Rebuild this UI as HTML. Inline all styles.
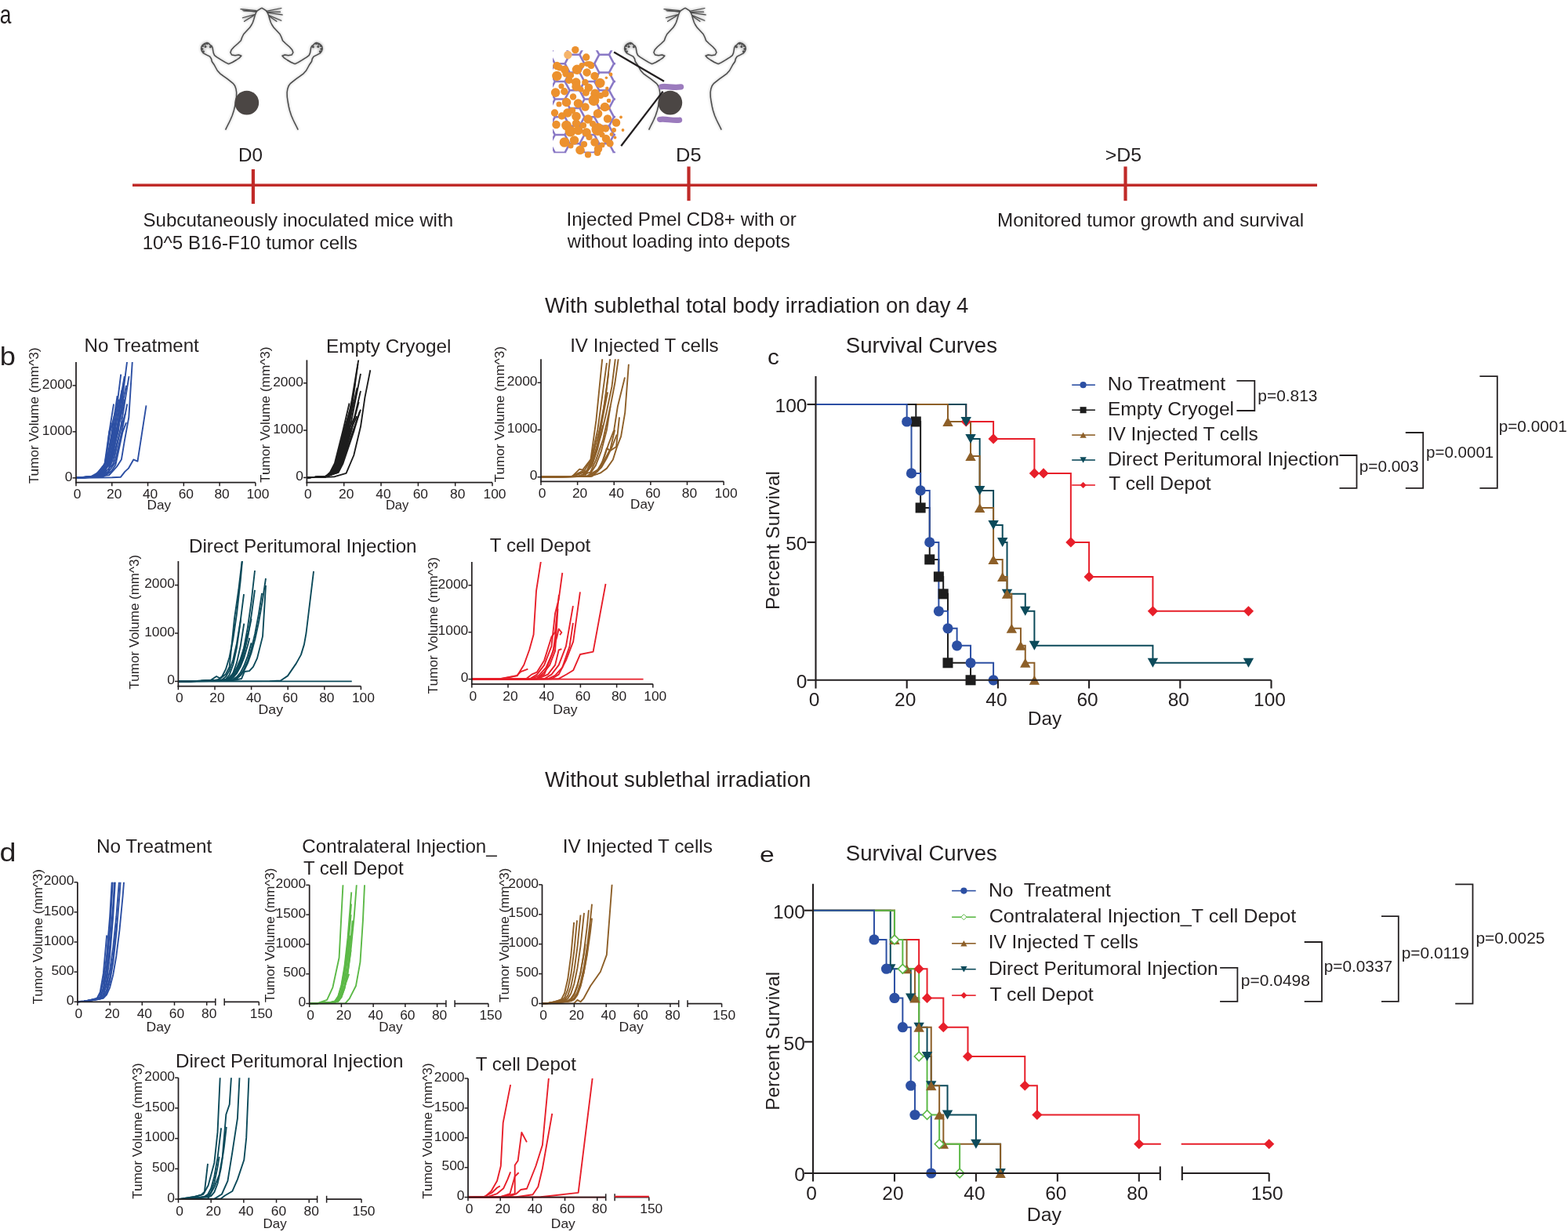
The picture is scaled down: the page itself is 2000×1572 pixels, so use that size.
<!DOCTYPE html>
<html><head><meta charset="utf-8"><title>Figure</title>
<style>
html,body{margin:0;padding:0;background:#fff;}
body{width:2000px;height:1572px;overflow:hidden;}
svg{display:block;}
svg text{font-family:'Liberation Sans', Arial, sans-serif;fill:#231f20;}
</style></head><body>
<svg width="2000" height="1572" viewBox="0 0 2000 1572">
<rect width="2000" height="1572" fill="#fff"/>
<text x="-0.17" y="30.2" font-size="32.3" textLength="14.67" lengthAdjust="spacingAndGlyphs">a</text>
<line x1="169" y1="236.3" x2="1680" y2="236.3" stroke="#c02a28" stroke-width="3.6"/>
<line x1="322.9" y1="216" x2="322.9" y2="260.1" stroke="#c02a28" stroke-width="4.2"/>
<line x1="878.5" y1="212.5" x2="878.5" y2="256.2" stroke="#c02a28" stroke-width="4.2"/>
<line x1="1435.5" y1="212.5" x2="1435.5" y2="256.2" stroke="#c02a28" stroke-width="4.2"/>
<text x="304.02" y="206" font-size="24.4" textLength="30.93" lengthAdjust="spacingAndGlyphs">D0</text>
<text x="862.12" y="206" font-size="24.4" textLength="32.45" lengthAdjust="spacingAndGlyphs">D5</text>
<text x="1409.77" y="206" font-size="24.4" textLength="46.27" lengthAdjust="spacingAndGlyphs">&gt;D5</text>
<text x="182.4" y="289" font-size="24" textLength="395.66" lengthAdjust="spacingAndGlyphs">Subcutaneously inoculated mice with</text>
<text x="181.66" y="317.5" font-size="24" textLength="274.21" lengthAdjust="spacingAndGlyphs">10^5 B16-F10 tumor cells</text>
<text x="722.47" y="288" font-size="24" textLength="293.33" lengthAdjust="spacingAndGlyphs">Injected Pmel CD8+ with or</text>
<text x="723.84" y="316.4" font-size="24" textLength="283.93" lengthAdjust="spacingAndGlyphs">without loading into depots</text>
<text x="1272.02" y="289" font-size="24" textLength="391.1" lengthAdjust="spacingAndGlyphs">Monitored tumor growth and survival</text>
<defs><filter id="soft" x="-20%" y="-20%" width="140%" height="140%"><feGaussianBlur stdDeviation="1.8"/></filter><filter id="soft2" x="-20%" y="-20%" width="140%" height="140%"><feGaussianBlur stdDeviation="0.4"/></filter><clipPath id="depclip"><rect x="705" y="64.2" width="80" height="131"/></clipPath></defs>
<g filter="url(#soft)" opacity="0.4" stroke="#777" fill="none">
<polyline points="333.9,10.1 331,11.8 328.3,13.6 326.8,15.5 325.2,19.6 323.8,24.5 322.5,28.5 321,31.5 318.5,35.3 314.5,39.5 310.8,43.5 308.8,47.5 307.3,51.8 303.5,55.5 298.6,59.8 295.2,63.5 293.9,67 295.6,70 300,70.8 304.5,70 307.8,71.2 305.5,73.8 301.5,76.5 296.5,79.5 291.6,81.6 287.5,79.6 282.5,76.6 276.5,72.8 273.6,70.6 272.3,67.6 271.6,63.8 271.2,61 270,58.6 268,57.3 266.4,55.4 264,54.5 261.5,55.4 259,57 257,59.5 256.6,62.2 257.5,65.2 259.4,67.9 263.7,70.2 267.7,72.2 269.5,75 270.3,78.5 272.9,82.2 275,86 277.2,90 280.6,93.8 285.4,97.4 290,100.6 294.1,103.9 297.5,106.6 299.6,109.5 301,113.5 301.7,118 301.5,124 300.6,130 299.5,136 298.3,141 296.2,147.5 293.8,153 291.8,157.2 289.6,161.5 287.6,165.6" stroke-width="2.4" stroke-linejoin="round"/>
<polyline points="333.9,10.1 336.8,11.8 339.5,13.6 341,15.5 342.6,19.6 344,24.5 345.3,28.5 346.8,31.5 349.3,35.3 353.3,39.5 357,43.5 359,47.5 360.5,51.8 364.3,55.5 369.2,59.8 372.6,63.5 373.9,67 372.2,70 367.8,70.8 363.3,70 360,71.2 362.3,73.8 366.3,76.5 371.3,79.5 376.2,81.6 380.3,79.6 385.3,76.6 391.3,72.8 394.2,70.6 395.5,67.6 396.2,63.8 396.6,61 397.8,58.6 399.8,57.3 401.4,55.4 403.8,54.5 406.3,55.4 408.8,57 410.8,59.5 411.2,62.2 410.3,65.2 408.4,67.9 404.1,70.2 400.1,72.2 398.3,75 397.5,78.5 394.9,82.2 392.8,86 390.6,90 387.2,93.8 382.4,97.4 377.8,100.6 373.7,103.9 370.3,106.6 368.2,109.5 366.8,113.5 366.1,118 366.3,124 367.2,130 368.3,136 369.5,141 371.6,147.5 374,153 376,157.2 378.2,161.5 380.2,165.6" stroke-width="2.4" stroke-linejoin="round"/>
<line x1="327.3" y1="13.65" x2="307" y2="11.55" stroke-width="3"/>
<line x1="326.6" y1="14.4" x2="310.9" y2="14" stroke-width="3"/>
<line x1="326.2" y1="15.2" x2="309.5" y2="13" stroke-width="3"/>
<line x1="324.5" y1="18.55" x2="309.45" y2="22.75" stroke-width="3"/>
<line x1="323.8" y1="19.6" x2="311.55" y2="27.3" stroke-width="3"/>
<line x1="339.55" y1="14.35" x2="358.8" y2="10.5" stroke-width="3"/>
<line x1="340.95" y1="16.1" x2="360.2" y2="18.9" stroke-width="3"/>
<line x1="340.5" y1="15.4" x2="357.5" y2="15.2" stroke-width="3"/>
<line x1="343" y1="19.6" x2="358.8" y2="26.25" stroke-width="3"/>
<line x1="343.75" y1="21" x2="352.85" y2="27.3" stroke-width="3"/>
<circle cx="258.6" cy="58.6" r="2.5" fill="#777"/>
<circle cx="261.2" cy="56.2" r="2.5" fill="#777"/>
<circle cx="264.4" cy="55.6" r="2.5" fill="#777"/>
<circle cx="257.9" cy="62.4" r="2.5" fill="#777"/>
<circle cx="259.4" cy="65.8" r="2.5" fill="#777"/>
<circle cx="268.4" cy="59.8" r="2.5" fill="#777"/>
<circle cx="262" cy="59.4" r="2.5" fill="#777"/>
<circle cx="409.2" cy="58.6" r="2.5" fill="#777"/>
<circle cx="406.6" cy="56.2" r="2.5" fill="#777"/>
<circle cx="403.4" cy="55.6" r="2.5" fill="#777"/>
<circle cx="409.9" cy="62.4" r="2.5" fill="#777"/>
<circle cx="408.4" cy="65.8" r="2.5" fill="#777"/>
<circle cx="399.4" cy="59.8" r="2.5" fill="#777"/>
<circle cx="405.8" cy="59.4" r="2.5" fill="#777"/>
</g>
<g filter="url(#soft2)" stroke="#4a4a4a" fill="none">
<polyline points="333.9,10.1 331,11.8 328.3,13.6 326.8,15.5 325.2,19.6 323.8,24.5 322.5,28.5 321,31.5 318.5,35.3 314.5,39.5 310.8,43.5 308.8,47.5 307.3,51.8 303.5,55.5 298.6,59.8 295.2,63.5 293.9,67 295.6,70 300,70.8 304.5,70 307.8,71.2 305.5,73.8 301.5,76.5 296.5,79.5 291.6,81.6 287.5,79.6 282.5,76.6 276.5,72.8 273.6,70.6 272.3,67.6 271.6,63.8 271.2,61 270,58.6 268,57.3 266.4,55.4 264,54.5 261.5,55.4 259,57 257,59.5 256.6,62.2 257.5,65.2 259.4,67.9 263.7,70.2 267.7,72.2 269.5,75 270.3,78.5 272.9,82.2 275,86 277.2,90 280.6,93.8 285.4,97.4 290,100.6 294.1,103.9 297.5,106.6 299.6,109.5 301,113.5 301.7,118 301.5,124 300.6,130 299.5,136 298.3,141 296.2,147.5 293.8,153 291.8,157.2 289.6,161.5 287.6,165.6" stroke-width="1.5" stroke-linejoin="round"/>
<polyline points="333.9,10.1 336.8,11.8 339.5,13.6 341,15.5 342.6,19.6 344,24.5 345.3,28.5 346.8,31.5 349.3,35.3 353.3,39.5 357,43.5 359,47.5 360.5,51.8 364.3,55.5 369.2,59.8 372.6,63.5 373.9,67 372.2,70 367.8,70.8 363.3,70 360,71.2 362.3,73.8 366.3,76.5 371.3,79.5 376.2,81.6 380.3,79.6 385.3,76.6 391.3,72.8 394.2,70.6 395.5,67.6 396.2,63.8 396.6,61 397.8,58.6 399.8,57.3 401.4,55.4 403.8,54.5 406.3,55.4 408.8,57 410.8,59.5 411.2,62.2 410.3,65.2 408.4,67.9 404.1,70.2 400.1,72.2 398.3,75 397.5,78.5 394.9,82.2 392.8,86 390.6,90 387.2,93.8 382.4,97.4 377.8,100.6 373.7,103.9 370.3,106.6 368.2,109.5 366.8,113.5 366.1,118 366.3,124 367.2,130 368.3,136 369.5,141 371.6,147.5 374,153 376,157.2 378.2,161.5 380.2,165.6" stroke-width="1.5" stroke-linejoin="round"/>
<line x1="327.3" y1="13.65" x2="307" y2="11.55" stroke-width="1.25" stroke-linecap="round"/>
<line x1="326.6" y1="14.4" x2="310.9" y2="14" stroke-width="1.25" stroke-linecap="round"/>
<line x1="326.2" y1="15.2" x2="309.5" y2="13" stroke-width="1.25" stroke-linecap="round"/>
<line x1="324.5" y1="18.55" x2="309.45" y2="22.75" stroke-width="1.25" stroke-linecap="round"/>
<line x1="323.8" y1="19.6" x2="311.55" y2="27.3" stroke-width="1.25" stroke-linecap="round"/>
<line x1="339.55" y1="14.35" x2="358.8" y2="10.5" stroke-width="1.25" stroke-linecap="round"/>
<line x1="340.95" y1="16.1" x2="360.2" y2="18.9" stroke-width="1.25" stroke-linecap="round"/>
<line x1="340.5" y1="15.4" x2="357.5" y2="15.2" stroke-width="1.25" stroke-linecap="round"/>
<line x1="343" y1="19.6" x2="358.8" y2="26.25" stroke-width="1.25" stroke-linecap="round"/>
<line x1="343.75" y1="21" x2="352.85" y2="27.3" stroke-width="1.25" stroke-linecap="round"/>
<circle cx="258.6" cy="58.6" r="1.5" fill="#505050" stroke="none"/>
<circle cx="261.2" cy="56.2" r="1.5" fill="#505050" stroke="none"/>
<circle cx="264.4" cy="55.6" r="1.5" fill="#505050" stroke="none"/>
<circle cx="257.9" cy="62.4" r="1.5" fill="#505050" stroke="none"/>
<circle cx="259.4" cy="65.8" r="1.5" fill="#505050" stroke="none"/>
<circle cx="268.4" cy="59.8" r="1.5" fill="#505050" stroke="none"/>
<circle cx="262" cy="59.4" r="1.5" fill="#505050" stroke="none"/>
<circle cx="409.2" cy="58.6" r="1.5" fill="#505050" stroke="none"/>
<circle cx="406.6" cy="56.2" r="1.5" fill="#505050" stroke="none"/>
<circle cx="403.4" cy="55.6" r="1.5" fill="#505050" stroke="none"/>
<circle cx="409.9" cy="62.4" r="1.5" fill="#505050" stroke="none"/>
<circle cx="408.4" cy="65.8" r="1.5" fill="#505050" stroke="none"/>
<circle cx="399.4" cy="59.8" r="1.5" fill="#505050" stroke="none"/>
<circle cx="405.8" cy="59.4" r="1.5" fill="#505050" stroke="none"/>
</g>
<circle cx="314.8" cy="131.1" r="15.4" fill="#4b4644"/>
<g filter="url(#soft)" opacity="0.4" stroke="#777" fill="none">
<polyline points="873.9,10.1 871,11.8 868.3,13.6 866.8,15.5 865.2,19.6 863.8,24.5 862.5,28.5 861,31.5 858.5,35.3 854.5,39.5 850.8,43.5 848.8,47.5 847.3,51.8 843.5,55.5 838.6,59.8 835.2,63.5 833.9,67 835.6,70 840,70.8 844.5,70 847.8,71.2 845.5,73.8 841.5,76.5 836.5,79.5 831.6,81.6 827.5,79.6 822.5,76.6 816.5,72.8 813.6,70.6 812.3,67.6 811.6,63.8 811.2,61 810,58.6 808,57.3 806.4,55.4 804,54.5 801.5,55.4 799,57 797,59.5 796.6,62.2 797.5,65.2 799.4,67.9 803.7,70.2 807.7,72.2 809.5,75 810.3,78.5 812.9,82.2 815,86 817.2,90 820.6,93.8 825.4,97.4 830,100.6 834.1,103.9 837.5,106.6 839.6,109.5 841,113.5 841.7,118 841.5,124 840.6,130 839.5,136 838.3,141 836.2,147.5 833.8,153 831.8,157.2 829.6,161.5 827.6,165.6" stroke-width="2.4" stroke-linejoin="round"/>
<polyline points="873.9,10.1 876.8,11.8 879.5,13.6 881,15.5 882.6,19.6 884,24.5 885.3,28.5 886.8,31.5 889.3,35.3 893.3,39.5 897,43.5 899,47.5 900.5,51.8 904.3,55.5 909.2,59.8 912.6,63.5 913.9,67 912.2,70 907.8,70.8 903.3,70 900,71.2 902.3,73.8 906.3,76.5 911.3,79.5 916.2,81.6 920.3,79.6 925.3,76.6 931.3,72.8 934.2,70.6 935.5,67.6 936.2,63.8 936.6,61 937.8,58.6 939.8,57.3 941.4,55.4 943.8,54.5 946.3,55.4 948.8,57 950.8,59.5 951.2,62.2 950.3,65.2 948.4,67.9 944.1,70.2 940.1,72.2 938.3,75 937.5,78.5 934.9,82.2 932.8,86 930.6,90 927.2,93.8 922.4,97.4 917.8,100.6 913.7,103.9 910.3,106.6 908.2,109.5 906.8,113.5 906.1,118 906.3,124 907.2,130 908.3,136 909.5,141 911.6,147.5 914,153 916,157.2 918.2,161.5 920.2,165.6" stroke-width="2.4" stroke-linejoin="round"/>
<line x1="867.3" y1="13.65" x2="847" y2="11.55" stroke-width="3"/>
<line x1="866.6" y1="14.4" x2="850.9" y2="14" stroke-width="3"/>
<line x1="866.2" y1="15.2" x2="849.5" y2="13" stroke-width="3"/>
<line x1="864.5" y1="18.55" x2="849.45" y2="22.75" stroke-width="3"/>
<line x1="863.8" y1="19.6" x2="851.55" y2="27.3" stroke-width="3"/>
<line x1="879.55" y1="14.35" x2="898.8" y2="10.5" stroke-width="3"/>
<line x1="880.95" y1="16.1" x2="900.2" y2="18.9" stroke-width="3"/>
<line x1="880.5" y1="15.4" x2="897.5" y2="15.2" stroke-width="3"/>
<line x1="883" y1="19.6" x2="898.8" y2="26.25" stroke-width="3"/>
<line x1="883.75" y1="21" x2="892.85" y2="27.3" stroke-width="3"/>
<circle cx="798.6" cy="58.6" r="2.5" fill="#777"/>
<circle cx="801.2" cy="56.2" r="2.5" fill="#777"/>
<circle cx="804.4" cy="55.6" r="2.5" fill="#777"/>
<circle cx="797.9" cy="62.4" r="2.5" fill="#777"/>
<circle cx="799.4" cy="65.8" r="2.5" fill="#777"/>
<circle cx="808.4" cy="59.8" r="2.5" fill="#777"/>
<circle cx="802" cy="59.4" r="2.5" fill="#777"/>
<circle cx="949.2" cy="58.6" r="2.5" fill="#777"/>
<circle cx="946.6" cy="56.2" r="2.5" fill="#777"/>
<circle cx="943.4" cy="55.6" r="2.5" fill="#777"/>
<circle cx="949.9" cy="62.4" r="2.5" fill="#777"/>
<circle cx="948.4" cy="65.8" r="2.5" fill="#777"/>
<circle cx="939.4" cy="59.8" r="2.5" fill="#777"/>
<circle cx="945.8" cy="59.4" r="2.5" fill="#777"/>
</g>
<g filter="url(#soft2)" stroke="#4a4a4a" fill="none">
<polyline points="873.9,10.1 871,11.8 868.3,13.6 866.8,15.5 865.2,19.6 863.8,24.5 862.5,28.5 861,31.5 858.5,35.3 854.5,39.5 850.8,43.5 848.8,47.5 847.3,51.8 843.5,55.5 838.6,59.8 835.2,63.5 833.9,67 835.6,70 840,70.8 844.5,70 847.8,71.2 845.5,73.8 841.5,76.5 836.5,79.5 831.6,81.6 827.5,79.6 822.5,76.6 816.5,72.8 813.6,70.6 812.3,67.6 811.6,63.8 811.2,61 810,58.6 808,57.3 806.4,55.4 804,54.5 801.5,55.4 799,57 797,59.5 796.6,62.2 797.5,65.2 799.4,67.9 803.7,70.2 807.7,72.2 809.5,75 810.3,78.5 812.9,82.2 815,86 817.2,90 820.6,93.8 825.4,97.4 830,100.6 834.1,103.9 837.5,106.6 839.6,109.5 841,113.5 841.7,118 841.5,124 840.6,130 839.5,136 838.3,141 836.2,147.5 833.8,153 831.8,157.2 829.6,161.5 827.6,165.6" stroke-width="1.5" stroke-linejoin="round"/>
<polyline points="873.9,10.1 876.8,11.8 879.5,13.6 881,15.5 882.6,19.6 884,24.5 885.3,28.5 886.8,31.5 889.3,35.3 893.3,39.5 897,43.5 899,47.5 900.5,51.8 904.3,55.5 909.2,59.8 912.6,63.5 913.9,67 912.2,70 907.8,70.8 903.3,70 900,71.2 902.3,73.8 906.3,76.5 911.3,79.5 916.2,81.6 920.3,79.6 925.3,76.6 931.3,72.8 934.2,70.6 935.5,67.6 936.2,63.8 936.6,61 937.8,58.6 939.8,57.3 941.4,55.4 943.8,54.5 946.3,55.4 948.8,57 950.8,59.5 951.2,62.2 950.3,65.2 948.4,67.9 944.1,70.2 940.1,72.2 938.3,75 937.5,78.5 934.9,82.2 932.8,86 930.6,90 927.2,93.8 922.4,97.4 917.8,100.6 913.7,103.9 910.3,106.6 908.2,109.5 906.8,113.5 906.1,118 906.3,124 907.2,130 908.3,136 909.5,141 911.6,147.5 914,153 916,157.2 918.2,161.5 920.2,165.6" stroke-width="1.5" stroke-linejoin="round"/>
<line x1="867.3" y1="13.65" x2="847" y2="11.55" stroke-width="1.25" stroke-linecap="round"/>
<line x1="866.6" y1="14.4" x2="850.9" y2="14" stroke-width="1.25" stroke-linecap="round"/>
<line x1="866.2" y1="15.2" x2="849.5" y2="13" stroke-width="1.25" stroke-linecap="round"/>
<line x1="864.5" y1="18.55" x2="849.45" y2="22.75" stroke-width="1.25" stroke-linecap="round"/>
<line x1="863.8" y1="19.6" x2="851.55" y2="27.3" stroke-width="1.25" stroke-linecap="round"/>
<line x1="879.55" y1="14.35" x2="898.8" y2="10.5" stroke-width="1.25" stroke-linecap="round"/>
<line x1="880.95" y1="16.1" x2="900.2" y2="18.9" stroke-width="1.25" stroke-linecap="round"/>
<line x1="880.5" y1="15.4" x2="897.5" y2="15.2" stroke-width="1.25" stroke-linecap="round"/>
<line x1="883" y1="19.6" x2="898.8" y2="26.25" stroke-width="1.25" stroke-linecap="round"/>
<line x1="883.75" y1="21" x2="892.85" y2="27.3" stroke-width="1.25" stroke-linecap="round"/>
<circle cx="798.6" cy="58.6" r="1.5" fill="#505050" stroke="none"/>
<circle cx="801.2" cy="56.2" r="1.5" fill="#505050" stroke="none"/>
<circle cx="804.4" cy="55.6" r="1.5" fill="#505050" stroke="none"/>
<circle cx="797.9" cy="62.4" r="1.5" fill="#505050" stroke="none"/>
<circle cx="799.4" cy="65.8" r="1.5" fill="#505050" stroke="none"/>
<circle cx="808.4" cy="59.8" r="1.5" fill="#505050" stroke="none"/>
<circle cx="802" cy="59.4" r="1.5" fill="#505050" stroke="none"/>
<circle cx="949.2" cy="58.6" r="1.5" fill="#505050" stroke="none"/>
<circle cx="946.6" cy="56.2" r="1.5" fill="#505050" stroke="none"/>
<circle cx="943.4" cy="55.6" r="1.5" fill="#505050" stroke="none"/>
<circle cx="949.9" cy="62.4" r="1.5" fill="#505050" stroke="none"/>
<circle cx="948.4" cy="65.8" r="1.5" fill="#505050" stroke="none"/>
<circle cx="939.4" cy="59.8" r="1.5" fill="#505050" stroke="none"/>
<circle cx="945.8" cy="59.4" r="1.5" fill="#505050" stroke="none"/>
</g>
<circle cx="854.8" cy="131.1" r="15.4" fill="#4b4644"/>
<g clip-path="url(#depclip)"><path d="M701.8,24.45 L707.9,35.8 L701.8,47.15 L689,47.15 L682.9,35.8 L689,24.45Z M701.8,47.15 L707.9,58.5 L701.8,69.85 L689,69.85 L682.9,58.5 L689,47.15Z M701.8,69.85 L707.9,81.2 L701.8,92.55 L689,92.55 L682.9,81.2 L689,69.85Z M701.8,92.55 L707.9,103.9 L701.8,115.25 L689,115.25 L682.9,103.9 L689,92.55Z M701.8,115.25 L707.9,126.6 L701.8,137.95 L689,137.95 L682.9,126.6 L689,115.25Z M701.8,137.95 L707.9,149.3 L701.8,160.65 L689,160.65 L682.9,149.3 L689,137.95Z M701.8,160.65 L707.9,172 L701.8,183.35 L689,183.35 L682.9,172 L689,160.65Z M701.8,183.35 L707.9,194.7 L701.8,206.05 L689,206.05 L682.9,194.7 L689,183.35Z M701.8,206.05 L707.9,217.4 L701.8,228.75 L689,228.75 L682.9,217.4 L689,206.05Z M701.8,228.75 L707.9,240.1 L701.8,251.45 L689,251.45 L682.9,240.1 L689,228.75Z M720.6,35.8 L726.7,47.15 L720.6,58.5 L707.8,58.5 L701.7,47.15 L707.8,35.8Z M720.6,58.5 L726.7,69.85 L720.6,81.2 L707.8,81.2 L701.7,69.85 L707.8,58.5Z M720.6,81.2 L726.7,92.55 L720.6,103.9 L707.8,103.9 L701.7,92.55 L707.8,81.2Z M720.6,103.9 L726.7,115.25 L720.6,126.6 L707.8,126.6 L701.7,115.25 L707.8,103.9Z M720.6,126.6 L726.7,137.95 L720.6,149.3 L707.8,149.3 L701.7,137.95 L707.8,126.6Z M720.6,149.3 L726.7,160.65 L720.6,172 L707.8,172 L701.7,160.65 L707.8,149.3Z M720.6,172 L726.7,183.35 L720.6,194.7 L707.8,194.7 L701.7,183.35 L707.8,172Z M720.6,194.7 L726.7,206.05 L720.6,217.4 L707.8,217.4 L701.7,206.05 L707.8,194.7Z M720.6,217.4 L726.7,228.75 L720.6,240.1 L707.8,240.1 L701.7,228.75 L707.8,217.4Z M720.6,240.1 L726.7,251.45 L720.6,262.8 L707.8,262.8 L701.7,251.45 L707.8,240.1Z M739.4,24.45 L745.5,35.8 L739.4,47.15 L726.6,47.15 L720.5,35.8 L726.6,24.45Z M739.4,47.15 L745.5,58.5 L739.4,69.85 L726.6,69.85 L720.5,58.5 L726.6,47.15Z M739.4,69.85 L745.5,81.2 L739.4,92.55 L726.6,92.55 L720.5,81.2 L726.6,69.85Z M739.4,92.55 L745.5,103.9 L739.4,115.25 L726.6,115.25 L720.5,103.9 L726.6,92.55Z M739.4,115.25 L745.5,126.6 L739.4,137.95 L726.6,137.95 L720.5,126.6 L726.6,115.25Z M739.4,137.95 L745.5,149.3 L739.4,160.65 L726.6,160.65 L720.5,149.3 L726.6,137.95Z M739.4,160.65 L745.5,172 L739.4,183.35 L726.6,183.35 L720.5,172 L726.6,160.65Z M739.4,183.35 L745.5,194.7 L739.4,206.05 L726.6,206.05 L720.5,194.7 L726.6,183.35Z M739.4,206.05 L745.5,217.4 L739.4,228.75 L726.6,228.75 L720.5,217.4 L726.6,206.05Z M739.4,228.75 L745.5,240.1 L739.4,251.45 L726.6,251.45 L720.5,240.1 L726.6,228.75Z M758.2,35.8 L764.3,47.15 L758.2,58.5 L745.4,58.5 L739.3,47.15 L745.4,35.8Z M758.2,58.5 L764.3,69.85 L758.2,81.2 L745.4,81.2 L739.3,69.85 L745.4,58.5Z M758.2,81.2 L764.3,92.55 L758.2,103.9 L745.4,103.9 L739.3,92.55 L745.4,81.2Z M758.2,103.9 L764.3,115.25 L758.2,126.6 L745.4,126.6 L739.3,115.25 L745.4,103.9Z M758.2,126.6 L764.3,137.95 L758.2,149.3 L745.4,149.3 L739.3,137.95 L745.4,126.6Z M758.2,149.3 L764.3,160.65 L758.2,172 L745.4,172 L739.3,160.65 L745.4,149.3Z M758.2,172 L764.3,183.35 L758.2,194.7 L745.4,194.7 L739.3,183.35 L745.4,172Z M758.2,194.7 L764.3,206.05 L758.2,217.4 L745.4,217.4 L739.3,206.05 L745.4,194.7Z M758.2,217.4 L764.3,228.75 L758.2,240.1 L745.4,240.1 L739.3,228.75 L745.4,217.4Z M758.2,240.1 L764.3,251.45 L758.2,262.8 L745.4,262.8 L739.3,251.45 L745.4,240.1Z M777,24.45 L783.1,35.8 L777,47.15 L764.2,47.15 L758.1,35.8 L764.2,24.45Z M777,47.15 L783.1,58.5 L777,69.85 L764.2,69.85 L758.1,58.5 L764.2,47.15Z M777,69.85 L783.1,81.2 L777,92.55 L764.2,92.55 L758.1,81.2 L764.2,69.85Z M777,92.55 L783.1,103.9 L777,115.25 L764.2,115.25 L758.1,103.9 L764.2,92.55Z M777,115.25 L783.1,126.6 L777,137.95 L764.2,137.95 L758.1,126.6 L764.2,115.25Z M777,137.95 L783.1,149.3 L777,160.65 L764.2,160.65 L758.1,149.3 L764.2,137.95Z M777,160.65 L783.1,172 L777,183.35 L764.2,183.35 L758.1,172 L764.2,160.65Z M777,183.35 L783.1,194.7 L777,206.05 L764.2,206.05 L758.1,194.7 L764.2,183.35Z M777,206.05 L783.1,217.4 L777,228.75 L764.2,228.75 L758.1,217.4 L764.2,206.05Z M777,228.75 L783.1,240.1 L777,251.45 L764.2,251.45 L758.1,240.1 L764.2,228.75Z M795.8,35.8 L801.9,47.15 L795.8,58.5 L783,58.5 L776.9,47.15 L783,35.8Z M795.8,58.5 L801.9,69.85 L795.8,81.2 L783,81.2 L776.9,69.85 L783,58.5Z M795.8,81.2 L801.9,92.55 L795.8,103.9 L783,103.9 L776.9,92.55 L783,81.2Z M795.8,103.9 L801.9,115.25 L795.8,126.6 L783,126.6 L776.9,115.25 L783,103.9Z M795.8,126.6 L801.9,137.95 L795.8,149.3 L783,149.3 L776.9,137.95 L783,126.6Z M795.8,149.3 L801.9,160.65 L795.8,172 L783,172 L776.9,160.65 L783,149.3Z M795.8,172 L801.9,183.35 L795.8,194.7 L783,194.7 L776.9,183.35 L783,172Z M795.8,194.7 L801.9,206.05 L795.8,217.4 L783,217.4 L776.9,206.05 L783,194.7Z M795.8,217.4 L801.9,228.75 L795.8,240.1 L783,240.1 L776.9,228.75 L783,217.4Z M795.8,240.1 L801.9,251.45 L795.8,262.8 L783,262.8 L776.9,251.45 L783,240.1Z" fill="none" stroke="#8a79c6" stroke-width="2.5"/></g>
<g fill="#ec912d" filter="url(#soft2)"><circle cx="733.8" cy="63.6" r="4.68"/><circle cx="747.7" cy="73" r="4.68"/><circle cx="710.4" cy="83.9" r="5.24"/><circle cx="720.3" cy="88.8" r="5.24"/><circle cx="736" cy="88.8" r="6.25"/><circle cx="748.6" cy="92.4" r="5.24"/><circle cx="758.5" cy="96.9" r="5.24"/><circle cx="710.4" cy="96.9" r="6.25"/><circle cx="721.6" cy="94.2" r="4.23"/><circle cx="734.7" cy="105" r="5.8"/><circle cx="735.1" cy="110.4" r="5.8"/><circle cx="725.7" cy="102.3" r="4.68"/><circle cx="746.4" cy="105" r="4.23"/><circle cx="750.9" cy="111.8" r="5.24"/><circle cx="765.3" cy="105.9" r="6.25"/><circle cx="773.4" cy="99.2" r="1.77"/><circle cx="774.3" cy="112.7" r="2.22"/><circle cx="708.6" cy="118.1" r="5.8"/><circle cx="719.8" cy="116.7" r="4.68"/><circle cx="731" cy="123.5" r="4.23"/><circle cx="747.3" cy="118.1" r="4.68"/><circle cx="759" cy="119.4" r="5.8"/><circle cx="772" cy="119.4" r="4.68"/><circle cx="756.3" cy="126.6" r="5.24"/><circle cx="776.5" cy="128.4" r="2.66"/><circle cx="722.5" cy="130.5" r="5.8"/><circle cx="737.5" cy="132" r="5.8"/><circle cx="746.5" cy="136.5" r="5.24"/><circle cx="757.5" cy="128" r="6.92"/><circle cx="771.5" cy="136.5" r="5.8"/><circle cx="776.5" cy="128.5" r="2.44"/><circle cx="707.5" cy="144" r="4.68"/><circle cx="724" cy="144" r="5.8"/><circle cx="716.5" cy="148" r="4.68"/><circle cx="735" cy="148.5" r="5.8"/><circle cx="750" cy="152" r="5.8"/><circle cx="762.5" cy="145" r="5.8"/><circle cx="775" cy="151.5" r="5.24"/><circle cx="786" cy="156.5" r="5.24"/><circle cx="792" cy="149.5" r="1.88"/><circle cx="794.5" cy="166" r="1.88"/><circle cx="709.5" cy="159" r="5.24"/><circle cx="722.5" cy="160" r="6.36"/><circle cx="735" cy="157.5" r="5.24"/><circle cx="727.5" cy="167.5" r="6.92"/><circle cx="737.5" cy="166.5" r="5.8"/><circle cx="748" cy="169" r="5.8"/><circle cx="762.5" cy="165" r="8.04"/><circle cx="772.5" cy="164" r="4.68"/><circle cx="751.5" cy="175" r="4.12"/><circle cx="720" cy="181.5" r="6.36"/><circle cx="732.5" cy="179" r="5.8"/><circle cx="758.5" cy="181.5" r="5.24"/><circle cx="773" cy="177" r="5.24"/><circle cx="778" cy="183" r="4.68"/><circle cx="740" cy="191.5" r="5.8"/><circle cx="750" cy="197.5" r="4.12"/><circle cx="763" cy="190" r="5.24"/><circle cx="762" cy="195" r="4.12"/><circle cx="780" cy="171.5" r="2.44"/><circle cx="784.5" cy="175.5" r="1.88"/><circle cx="714" cy="86.5" r="4.12"/><circle cx="742" cy="83.5" r="3.56"/><circle cx="754" cy="84" r="4.12"/><circle cx="716" cy="110" r="3.56"/><circle cx="728" cy="96" r="4.12"/><circle cx="741" cy="114" r="3.56"/><circle cx="766" cy="122" r="4.12"/><circle cx="713" cy="133" r="3.56"/><circle cx="730" cy="141" r="4.12"/><circle cx="744" cy="160" r="4.12"/><circle cx="756" cy="158" r="4.12"/><circle cx="768" cy="172" r="3.56"/><circle cx="745" cy="184" r="4.12"/><circle cx="728" cy="186" r="3.56"/><circle cx="783" cy="166" r="3"/><circle cx="779" cy="95" r="2.44"/><circle cx="768" cy="185" r="3.56"/><ellipse cx="750.9" cy="81.6" rx="6.5" ry="3.6"/><ellipse cx="772" cy="138" rx="6.5" ry="3.2"/><ellipse cx="786" cy="156.5" rx="5" ry="3.2"/></g>
<circle cx="724.4" cy="70.0" r="5.2" fill="#f5b46b"/>
<line x1="783.1" y1="66.5" x2="847" y2="103.7" stroke="#231f20" stroke-width="2.3"/>
<line x1="792.2" y1="186.2" x2="845.6" y2="116.6" stroke="#231f20" stroke-width="2.3"/>
<path d="M843.6,110.7 C850,109.4 858,112.6 868.6,110.9" fill="none" stroke="#9b7bbd" stroke-width="7.2" stroke-linecap="round"/>
<path d="M841.6,152.4 C848,150.8 858,154.6 866.6,153.2" fill="none" stroke="#9b7bbd" stroke-width="7.2" stroke-linecap="round"/>
<text x="694.88" y="399.2" font-size="27.5" textLength="540.43" lengthAdjust="spacingAndGlyphs">With sublethal total body irradiation on day 4</text>
<text x="695.08" y="1003.8" font-size="27.5" textLength="339.21" lengthAdjust="spacingAndGlyphs">Without sublethal irradiation</text>
<text x="-0.34" y="465.8" font-size="33" textLength="20.16" lengthAdjust="spacingAndGlyphs">b</text>
<clipPath id="gc1"><rect x="97" y="462" width="230.9" height="157.7"/></clipPath>
<g clip-path="url(#gc1)" fill="none" stroke="#2c4fa3" stroke-width="1.9" stroke-linejoin="round">
<polyline points="97,609.8 119.9,608.58 131.11,602.37 134.77,590.91 139.35,550.85 145.07,515.48"/>
<polyline points="97,609.8 119.41,608.46 129.17,598.14 135.91,589.31 142.78,550.85 149.65,505.1"/>
<polyline points="97,609.8 123.48,607.94 134.32,602.42 137.06,590.1 145.07,550.85 154.22,477.58"/>
<polyline points="97,609.8 120.94,608.5 131.35,602.03 138.2,591.54 148.5,550.85 158.57,483.29"/>
<polyline points="97,609.8 126.56,608.47 133.94,598.34 140.49,591.19 150.79,550.85 162.69,456.53"/>
<polyline points="97,609.8 121.14,608.58 130.63,601.69 133.62,592.74 140.49,550.85 147.36,524.32"/>
<polyline points="97,609.8 120.66,607.99 130.34,595.89 135.91,589.88 143.92,550.85 151.94,509.58"/>
<polyline points="97,609.8 124.01,608.42 134.4,593.51 137.06,589.93 146.21,550.85 155.37,497.79"/>
<polyline points="97,609.8 121.04,607.54 132.4,597.14 139.35,591.75 148.5,550.85 156.51,521.38"/>
<polyline points="97,609.8 123.39,607.83 135.76,596.43 141.64,592.81 149.65,550.85 158.8,509.58"/>
<polyline points="97,609.8 130.33,607.9 138.96,597.23 143.92,593.07 153.08,550.85 159.95,527.27"/>
<polyline points="97,609.8 130.55,607.9 140.47,599.51 146.21,591.09 155.37,550.85 162.24,515.48"/>
<polyline points="97,609.8 124.19,608.61 132.2,594.71 135.91,589.83 146.21,550.85 158.8,480.11"/>
<polyline points="97,609.8 126.08,607.59 138.54,602.27 140.49,590.58 148.5,550.85 161.09,491.9"/>
<polyline points="97,609.8 123.19,607.53 135.19,595.83 142.78,589.1 153.08,550.85 164.53,480.11"/>
<polyline points="97,609.8 115.2,608.49 127.71,601.55 133.62,590.94 139.35,550.85 143.92,539.06"/>
<polyline points="97,609.8 125.12,607.45 132.5,602.98 138.2,593.28 147.36,550.85 154.22,533.16"/>
<polyline points="97,609.8 131.31,608.4 142.26,601.09 147.36,593.32 156.51,550.85 161.09,539.06"/>
<polyline points="97,609.8 119.89,608.03 139.12,606.26 149.65,594.59 154.91,586.22 158.8,562.64 164.3,532.69 169.1,456.53"/>
<polyline points="97,609.8 119.89,609.51 142.78,609.21 154,608.68 159.26,601.84 163.84,597.66 170.25,586.46 175.51,588.58 186.5,517.37"/>
</g>
<line x1="97" y1="462" x2="97" y2="616.58" stroke="#231f20" stroke-width="1.75"/>
<line x1="96.12" y1="615.7" x2="325.9" y2="615.7" stroke="#231f20" stroke-width="1.75"/>
<line x1="97" y1="615.7" x2="97" y2="620.3" stroke="#231f20" stroke-width="1.5"/>
<text x="98.5" y="636.4" font-size="17.4" text-anchor="middle">0</text>
<line x1="142.78" y1="615.7" x2="142.78" y2="620.3" stroke="#231f20" stroke-width="1.5"/>
<text x="145.78" y="636.4" font-size="17.4" text-anchor="middle">20</text>
<line x1="188.56" y1="615.7" x2="188.56" y2="620.3" stroke="#231f20" stroke-width="1.5"/>
<text x="191.56" y="636.4" font-size="17.4" text-anchor="middle">40</text>
<line x1="234.34" y1="615.7" x2="234.34" y2="620.3" stroke="#231f20" stroke-width="1.5"/>
<text x="237.34" y="636.4" font-size="17.4" text-anchor="middle">60</text>
<line x1="280.12" y1="615.7" x2="280.12" y2="620.3" stroke="#231f20" stroke-width="1.5"/>
<text x="283.12" y="636.4" font-size="17.4" text-anchor="middle">80</text>
<line x1="325.9" y1="615.7" x2="325.9" y2="620.3" stroke="#231f20" stroke-width="1.5"/>
<text x="328.9" y="636.4" font-size="17.4" text-anchor="middle">100</text>
<line x1="92.6" y1="609.8" x2="97" y2="609.8" stroke="#231f20" stroke-width="1.5"/>
<text x="92.5" y="613.5" font-size="17.4" text-anchor="end">0</text>
<line x1="92.6" y1="550.85" x2="97" y2="550.85" stroke="#231f20" stroke-width="1.5"/>
<text x="92.5" y="554.55" font-size="17.4" text-anchor="end">1000</text>
<line x1="92.6" y1="491.9" x2="97" y2="491.9" stroke="#231f20" stroke-width="1.5"/>
<text x="92.5" y="495.6" font-size="17.4" text-anchor="end">2000</text>
<text x="107.64" y="449.4" font-size="24.1" textLength="146.14" lengthAdjust="spacingAndGlyphs">No Treatment</text>
<text x="49" y="617.28" font-size="17" textLength="173.84" lengthAdjust="spacingAndGlyphs" transform="rotate(-90 49 617.28)">Tumor Volume (mm^3)</text>
<text x="187.49" y="650" font-size="17" textLength="30.54" lengthAdjust="spacingAndGlyphs">Day</text>
<clipPath id="gc2"><rect x="391.4" y="459.4" width="238.6" height="160.3"/></clipPath>
<g clip-path="url(#gc2)" fill="none" stroke="#1d1d1d" stroke-width="1.9" stroke-linejoin="round">
<polyline points="391.4,609.4 415.06,608.19 420.97,602.77 426.89,591.31 437.54,549.1 445.58,514.49"/>
<polyline points="391.4,609.4 415.06,608.19 423.34,602.77 429.26,591.31 439.9,549.1 450.31,506.29"/>
<polyline points="391.4,609.4 415.06,608.19 425.71,602.77 431.62,591.31 442.27,549.1 458.36,452.62"/>
<polyline points="391.4,609.4 415.06,608.19 428.07,602.77 433.99,591.31 445.82,549.1 460.01,476.92"/>
<polyline points="391.4,609.4 415.06,608.19 429.26,602.77 435.17,591.31 448.18,549.1 460.01,498.87"/>
<polyline points="391.4,609.4 415.06,608.19 425.71,602.77 431.62,591.31 443.45,549.1 455.52,494.83"/>
<polyline points="391.4,609.4 415.06,608.19 430.44,602.77 436.35,591.31 450.55,549.1 460.01,522.57"/>
<polyline points="391.4,609.4 415.06,608.19 422.16,602.77 428.07,591.31 438.72,549.1 445.82,524.98"/>
<polyline points="391.4,609.4 415.06,608.19 424.52,602.77 430.44,591.31 441.09,549.1 450.55,512.92"/>
<polyline points="391.4,609.4 415.06,608.19 426.89,602.77 432.8,591.31 444.63,549.1 452.92,531.01"/>
<polyline points="391.4,609.4 415.06,608.19 428.07,602.77 433.99,591.31 447,549.1 455.28,531.01"/>
<polyline points="391.4,609.4 415.06,608.19 430.44,602.77 436.35,591.31 448.18,549.1 457.65,512.92"/>
<polyline points="391.4,609.4 415.06,608.19 423.34,602.77 429.26,591.31 441.09,549.1 448.18,518.95"/>
<polyline points="391.4,609.4 415.06,608.19 425.71,602.77 431.62,591.31 443.45,549.1 452.92,488.8"/>
<polyline points="391.4,609.4 415.06,608.19 428.07,602.77 433.99,591.31 444.63,549.1 456.46,464.68"/>
<polyline points="391.4,609.4 415.06,608.19 431.62,602.77 437.54,591.31 451.73,549.1 458.83,524.98"/>
<polyline points="391.4,609.4 415.06,608.8 426.89,608.19 441.56,603.79 451.26,581 460.01,544.28 465.46,506.89 472.32,472.22"/>
</g>
<line x1="391.4" y1="459.4" x2="391.4" y2="616.58" stroke="#231f20" stroke-width="1.75"/>
<line x1="390.52" y1="615.7" x2="628" y2="615.7" stroke="#231f20" stroke-width="1.75"/>
<line x1="391.4" y1="615.7" x2="391.4" y2="620.3" stroke="#231f20" stroke-width="1.5"/>
<text x="392.9" y="636.4" font-size="17.4" text-anchor="middle">0</text>
<line x1="438.72" y1="615.7" x2="438.72" y2="620.3" stroke="#231f20" stroke-width="1.5"/>
<text x="441.72" y="636.4" font-size="17.4" text-anchor="middle">20</text>
<line x1="486.04" y1="615.7" x2="486.04" y2="620.3" stroke="#231f20" stroke-width="1.5"/>
<text x="489.04" y="636.4" font-size="17.4" text-anchor="middle">40</text>
<line x1="533.36" y1="615.7" x2="533.36" y2="620.3" stroke="#231f20" stroke-width="1.5"/>
<text x="536.36" y="636.4" font-size="17.4" text-anchor="middle">60</text>
<line x1="580.68" y1="615.7" x2="580.68" y2="620.3" stroke="#231f20" stroke-width="1.5"/>
<text x="583.68" y="636.4" font-size="17.4" text-anchor="middle">80</text>
<line x1="628" y1="615.7" x2="628" y2="620.3" stroke="#231f20" stroke-width="1.5"/>
<text x="631" y="636.4" font-size="17.4" text-anchor="middle">100</text>
<line x1="387" y1="609.4" x2="391.4" y2="609.4" stroke="#231f20" stroke-width="1.5"/>
<text x="386.9" y="613.1" font-size="17.4" text-anchor="end">0</text>
<line x1="387" y1="549.1" x2="391.4" y2="549.1" stroke="#231f20" stroke-width="1.5"/>
<text x="386.9" y="552.8" font-size="17.4" text-anchor="end">1000</text>
<line x1="387" y1="488.8" x2="391.4" y2="488.8" stroke="#231f20" stroke-width="1.5"/>
<text x="386.9" y="492.5" font-size="17.4" text-anchor="end">2000</text>
<text x="416.01" y="449.7" font-size="24.1" textLength="159.42" lengthAdjust="spacingAndGlyphs">Empty Cryogel</text>
<text x="343.6" y="615.88" font-size="17" textLength="173.44" lengthAdjust="spacingAndGlyphs" transform="rotate(-90 343.6 615.88)">Tumor Volume (mm^3)</text>
<text x="491.94" y="650" font-size="17" textLength="29.39" lengthAdjust="spacingAndGlyphs">Day</text>
<clipPath id="gc3"><rect x="690" y="458.2" width="235.1" height="160.1"/></clipPath>
<g clip-path="url(#gc3)" fill="none" stroke="#8d5f28" stroke-width="1.9" stroke-linejoin="round">
<polyline points="690,608.7 713.31,608.4 730.09,607.68 739.18,598.59 743.15,599.67 753.4,586.43 760.4,536.46 768.79,452.18"/>
<polyline points="690,608.7 729.63,607.68 745.94,599.67 754.1,585.82 762.26,548.5 768.09,506.36 773.92,463.08"/>
<polyline points="690,608.7 729.63,607.68 748.27,601.48 755.27,584.62 764.59,548.5 771.59,512.38 778.81,452.18"/>
<polyline points="690,608.7 731.96,607.68 750.61,599.67 757.6,581.61 766.92,554.52 773.92,524.42 780.44,493.24 785.57,452.18"/>
<polyline points="690,608.7 736.62,607.68 752.94,602.68 759.93,587.63 769.25,560.54 778.58,518.4 784.41,488.3 789.53,452.18"/>
<polyline points="690,608.7 752.94,607.68 765.52,603.7 773.92,597.62 781.84,586.43 786.97,570.11 792.1,556.81 797.23,526.29 801.89,464.7"/>
<polyline points="690,608.7 750.61,607.68 762.26,599.67 769.25,587.63 776.25,566.56 783.24,548.5 787.9,518.4 796.99,481.5"/>
<polyline points="690,608.7 748.27,607.68 765.52,597.62 773.92,572.1 778.58,574.99 786.04,569.99 790,532.43"/>
<polyline points="690,608.7 741.28,607.68 752.94,596.66 759.93,578.6 766.92,542.48 773.92,494.32 776.25,476.26"/>
<polyline points="690,608.7 745.94,607.68 755.27,590.64 762.26,566.56 769.25,530.44 775.08,500.34"/>
<polyline points="690,608.7 750.61,607.68 759.93,593.65 766.92,575.59 773.92,548.5 778.58,518.4"/>
<polyline points="690,608.7 755.27,607.68 766.92,596.66 773.92,584.62 780.91,569.57 786.74,554.52"/>
<polyline points="690,608.7 743.61,607.68 755.27,593.65 762.26,572.58 769.25,542.48"/>
<polyline points="690,608.7 752.94,607.68 762.26,601.48 769.25,590.64 778.58,572.58 784.17,548.5"/>
</g>
<line x1="690" y1="458.2" x2="690" y2="615.17" stroke="#231f20" stroke-width="1.75"/>
<line x1="689.12" y1="614.3" x2="923.1" y2="614.3" stroke="#231f20" stroke-width="1.75"/>
<line x1="690" y1="614.3" x2="690" y2="618.9" stroke="#231f20" stroke-width="1.5"/>
<text x="691.5" y="635" font-size="17.4" text-anchor="middle">0</text>
<line x1="736.62" y1="614.3" x2="736.62" y2="618.9" stroke="#231f20" stroke-width="1.5"/>
<text x="739.62" y="635" font-size="17.4" text-anchor="middle">20</text>
<line x1="783.24" y1="614.3" x2="783.24" y2="618.9" stroke="#231f20" stroke-width="1.5"/>
<text x="786.24" y="635" font-size="17.4" text-anchor="middle">40</text>
<line x1="829.86" y1="614.3" x2="829.86" y2="618.9" stroke="#231f20" stroke-width="1.5"/>
<text x="832.86" y="635" font-size="17.4" text-anchor="middle">60</text>
<line x1="876.48" y1="614.3" x2="876.48" y2="618.9" stroke="#231f20" stroke-width="1.5"/>
<text x="879.48" y="635" font-size="17.4" text-anchor="middle">80</text>
<line x1="923.1" y1="614.3" x2="923.1" y2="618.9" stroke="#231f20" stroke-width="1.5"/>
<text x="926.1" y="635" font-size="17.4" text-anchor="middle">100</text>
<line x1="685.6" y1="608.7" x2="690" y2="608.7" stroke="#231f20" stroke-width="1.5"/>
<text x="685.5" y="612.4" font-size="17.4" text-anchor="end">0</text>
<line x1="685.6" y1="548.5" x2="690" y2="548.5" stroke="#231f20" stroke-width="1.5"/>
<text x="685.5" y="552.2" font-size="17.4" text-anchor="end">1000</text>
<line x1="685.6" y1="488.3" x2="690" y2="488.3" stroke="#231f20" stroke-width="1.5"/>
<text x="685.5" y="492" font-size="17.4" text-anchor="end">2000</text>
<text x="727.18" y="449.4" font-size="24.1" textLength="189.48" lengthAdjust="spacingAndGlyphs">IV Injected T cells</text>
<text x="643.5" y="615.38" font-size="17" textLength="173.44" lengthAdjust="spacingAndGlyphs" transform="rotate(-90 643.5 615.38)">Tumor Volume (mm^3)</text>
<text x="804.1" y="649" font-size="17" textLength="30.33" lengthAdjust="spacingAndGlyphs">Day</text>
<clipPath id="gc4"><rect x="227.4" y="716" width="235" height="163.6"/></clipPath>
<g clip-path="url(#gc4)" fill="none" stroke="#0c4a5a" stroke-width="1.9" stroke-linejoin="round">
<polyline points="227.4,869.4 236.72,869.28 241.38,869.18 246.04,869.05 250.7,868.89 255.36,868.72 260.02,868.53 264.68,868.33 269.34,868.1 274,867.87 278.66,867.06 283.32,863.01 287.98,853.94 292.64,838.44 297.3,815.31 301.96,783.43 306.62,741.81 310.12,703.62"/>
<polyline points="227.4,869.4 236.72,869.3 241.38,869.21 246.04,869.1 250.7,868.97 255.36,868.82 260.02,868.66 264.68,868.48 269.34,868.29 274,868.08 278.66,867.87 283.32,867.15 287.98,863.56 292.64,855.5 297.3,841.74 301.96,821.21 306.62,792.91 311.05,758.02"/>
<polyline points="227.4,869.4 236.72,869.31 241.38,869.23 246.04,869.14 250.7,869.02 255.36,868.89 260.02,868.75 264.68,868.6 269.34,868.43 274,868.25 278.66,868.06 283.32,867.87 287.98,866.74 292.64,861.04 297.3,848.27 301.96,826.47 307.09,790.01"/>
<polyline points="227.4,869.4 236.72,869.32 241.38,869.24 246.04,869.15 250.7,869.05 255.36,868.93 260.02,868.79 264.68,868.65 269.34,868.49 274,868.33 278.66,868.15 283.32,867.96 287.98,867.72 292.64,865.4 297.3,858.58 301.96,845.59 306.62,825.05 311.28,795.72"/>
<polyline points="227.4,869.4 236.72,869.32 241.38,869.25 246.04,869.17 250.7,869.07 255.36,868.95 260.02,868.83 264.68,868.69 269.34,868.55 274,868.39 278.66,868.23 283.32,868.05 287.98,867.87 292.64,867.23 297.3,864 301.96,856.77 306.62,844.42 311.28,825.98 315.94,800.57 320.6,767.4 325.03,728"/>
<polyline points="227.4,869.4 236.72,869.32 241.38,869.25 246.04,869.17 250.7,869.07 255.36,868.95 260.02,868.83 264.68,868.69 269.34,868.55 274,868.39 278.66,868.23 283.32,868.05 287.98,867.87 292.64,867.34 297.3,864.69 301.96,858.75 306.62,848.61 311.28,833.46 315.94,812.6 320.6,785.35 325.03,752.99"/>
<polyline points="227.4,869.4 236.72,869.33 241.38,869.27 246.04,869.19 250.7,869.1 255.36,869 260.02,868.89 264.68,868.77 269.34,868.64 274,868.5 278.66,868.36 283.32,868.2 287.98,868.04 292.64,867.87 297.3,867.49 301.96,865.58 306.62,861.3 311.28,854 315.94,843.09 320.6,828.06 325.26,808.44 329.92,783.77 334.11,756.92"/>
<polyline points="227.4,869.4 236.72,869.33 241.38,869.27 246.04,869.19 250.7,869.1 255.36,869 260.02,868.89 264.68,868.77 269.34,868.64 274,868.5 278.66,868.36 283.32,868.2 287.98,868.04 292.64,867.87 297.3,867.53 301.96,865.86 306.62,862.12 311.28,855.72 315.94,846.16 320.6,833 325.26,815.82 329.92,794.22 334.58,767.83 339.01,738"/>
<polyline points="227.4,869.4 274,868.79 297.3,868.17 308.02,866.02 311.75,857.06 318.04,856.08 322.93,850.86 328.06,839.87 335.05,811.87 339.01,747.03"/>
<polyline points="227.4,869.4 236.72,869.31 241.38,869.22 246.04,869.12 250.7,869 255.36,868.86 260.02,868.71 264.68,868.54 269.34,868.36 274,868.17 278.66,867.97 283.32,867.81 287.98,866.95 292.64,864.42 297.3,859.61 301.96,852 306.62,841.14 311.28,826.6 315.94,808"/>
<polyline points="227.4,869.4 236.72,869.31 241.38,869.23 246.04,869.14 250.7,869.02 255.36,868.89 260.02,868.75 264.68,868.6 269.34,868.43 274,868.25 278.66,868.06 283.32,867.87 287.98,867.51 292.64,865.74 297.3,861.75 301.96,854.95 306.62,844.8 311.28,830.81 315.94,812.54 320.6,789.58"/>
<polyline points="227.4,869.4 236.72,869.32 241.38,869.24 246.04,869.15 250.7,869.05 255.36,868.93 260.02,868.79 264.68,868.65 269.34,868.49 274,868.33 278.66,868.15 283.32,867.96 287.98,867.81 292.64,866.89 297.3,864.17 301.96,859 306.62,850.83 311.28,839.17 315.94,823.56 318.27,814.14"/>
<polyline points="227.4,869.4 236.72,869.33 241.38,869.26 246.04,869.18 250.7,869.09 255.36,868.98 260.02,868.86 264.68,868.74 269.34,868.6 274,868.45 278.66,868.29 283.32,868.13 287.98,867.95 292.64,867.8 297.3,866.81 301.96,863.9 306.62,858.35 311.28,849.57 315.94,837.04 320.6,820.28"/>
<polyline points="227.4,869.4 267.01,869.09 276.1,863.01 280.99,865.72 287.98,860.19 292.64,850.98 298.93,790.01 304.29,752.74 310.12,703.62"/>
<polyline points="227.4,869.4 343.9,869.09 357.88,868.48 366.97,862.4 377.92,846.38 383.98,835.38 387.94,822.37 390.5,808 400.05,728.98"/>
<polyline points="227.4,869.4 448.75,869.4"/>
</g>
<line x1="227.4" y1="716" x2="227.4" y2="876.48" stroke="#231f20" stroke-width="1.75"/>
<line x1="226.53" y1="875.6" x2="460.4" y2="875.6" stroke="#231f20" stroke-width="1.75"/>
<line x1="227.4" y1="875.6" x2="227.4" y2="880.2" stroke="#231f20" stroke-width="1.5"/>
<text x="228.9" y="896.3" font-size="17.4" text-anchor="middle">0</text>
<line x1="274" y1="875.6" x2="274" y2="880.2" stroke="#231f20" stroke-width="1.5"/>
<text x="277" y="896.3" font-size="17.4" text-anchor="middle">20</text>
<line x1="320.6" y1="875.6" x2="320.6" y2="880.2" stroke="#231f20" stroke-width="1.5"/>
<text x="323.6" y="896.3" font-size="17.4" text-anchor="middle">40</text>
<line x1="367.2" y1="875.6" x2="367.2" y2="880.2" stroke="#231f20" stroke-width="1.5"/>
<text x="370.2" y="896.3" font-size="17.4" text-anchor="middle">60</text>
<line x1="413.8" y1="875.6" x2="413.8" y2="880.2" stroke="#231f20" stroke-width="1.5"/>
<text x="416.8" y="896.3" font-size="17.4" text-anchor="middle">80</text>
<line x1="460.4" y1="875.6" x2="460.4" y2="880.2" stroke="#231f20" stroke-width="1.5"/>
<text x="463.4" y="896.3" font-size="17.4" text-anchor="middle">100</text>
<line x1="223" y1="869.4" x2="227.4" y2="869.4" stroke="#231f20" stroke-width="1.5"/>
<text x="222.9" y="873.1" font-size="17.4" text-anchor="end">0</text>
<line x1="223" y1="808" x2="227.4" y2="808" stroke="#231f20" stroke-width="1.5"/>
<text x="222.9" y="811.7" font-size="17.4" text-anchor="end">1000</text>
<line x1="223" y1="746.6" x2="227.4" y2="746.6" stroke="#231f20" stroke-width="1.5"/>
<text x="222.9" y="750.3" font-size="17.4" text-anchor="end">2000</text>
<text x="241.01" y="704.6" font-size="24.1" textLength="290.56" lengthAdjust="spacingAndGlyphs">Direct Peritumoral Injection</text>
<text x="177.5" y="879.38" font-size="17" textLength="171.42" lengthAdjust="spacingAndGlyphs" transform="rotate(-90 177.5 879.38)">Tumor Volume (mm^3)</text>
<text x="329.55" y="910.5" font-size="17" textLength="31.49" lengthAdjust="spacingAndGlyphs">Day</text>
<clipPath id="gc5"><rect x="601.8" y="717" width="233" height="159.8"/></clipPath>
<g clip-path="url(#gc5)" fill="none" stroke="#e71f2a" stroke-width="1.9" stroke-linejoin="round">
<polyline points="601.8,866.6 638.76,866.3 652.62,863.61 659.55,862.41 668.33,848.27 675.26,828.98 680.57,809.81 684.04,753.81 690.73,710.86"/>
<polyline points="601.8,866.6 638.76,866 648,864.2 659.55,861.81 664.17,857.02 673.41,853.54"/>
<polyline points="601.8,866.6 671.1,866.3 678.03,860.61 684.96,857.62 694.2,842.64 703.44,812.69 708.06,806.7 712.91,758.96"/>
<polyline points="601.8,866.6 675.72,866.3 684.96,860.61 694.2,848.63 703.44,824.67 708.06,782.74 712.68,764.77 717.3,730.99"/>
<polyline points="601.8,866.6 682.65,866.3 694.2,860.61 703.44,836.65 710.37,812.69 712.68,802.51 716.38,807 714.07,810.29"/>
<polyline points="601.8,866.6 684.96,866.3 698.82,860.61 708.06,848.63 712.68,829.46 716.38,828.02"/>
<polyline points="601.8,866.6 694.2,866.3 703.44,860.61 712.68,848.63 721.92,824.67 730.93,773.04"/>
<polyline points="601.8,866.6 698.82,866.3 708.06,861.81 717.3,851.62 726.54,824.67 730.93,794.9"/>
<polyline points="601.8,866.6 703.44,866.3 712.68,860.61 721.92,842.64 731.16,818.68 739.94,755.49"/>
<polyline points="601.8,866.6 711.99,866.3 722.61,860.49 731.16,855.28 739.94,835.03 756.57,831.62 772.51,745"/>
<polyline points="601.8,866.6 684.96,866.3 694.2,857.62 701.13,848.63 708.06,830.66 711.52,776.75"/>
<polyline points="601.8,866.6 678.03,866.3 687.27,861.81 696.51,851.62 705.75,830.66 709.21,803.71"/>
<polyline points="601.8,866.6 820.56,866.6"/>
</g>
<line x1="601.8" y1="717" x2="601.8" y2="873.67" stroke="#231f20" stroke-width="1.75"/>
<line x1="600.92" y1="872.8" x2="832.8" y2="872.8" stroke="#231f20" stroke-width="1.75"/>
<line x1="601.8" y1="872.8" x2="601.8" y2="877.4" stroke="#231f20" stroke-width="1.5"/>
<text x="603.3" y="893.5" font-size="17.4" text-anchor="middle">0</text>
<line x1="648" y1="872.8" x2="648" y2="877.4" stroke="#231f20" stroke-width="1.5"/>
<text x="651" y="893.5" font-size="17.4" text-anchor="middle">20</text>
<line x1="694.2" y1="872.8" x2="694.2" y2="877.4" stroke="#231f20" stroke-width="1.5"/>
<text x="697.2" y="893.5" font-size="17.4" text-anchor="middle">40</text>
<line x1="740.4" y1="872.8" x2="740.4" y2="877.4" stroke="#231f20" stroke-width="1.5"/>
<text x="743.4" y="893.5" font-size="17.4" text-anchor="middle">60</text>
<line x1="786.6" y1="872.8" x2="786.6" y2="877.4" stroke="#231f20" stroke-width="1.5"/>
<text x="789.6" y="893.5" font-size="17.4" text-anchor="middle">80</text>
<line x1="832.8" y1="872.8" x2="832.8" y2="877.4" stroke="#231f20" stroke-width="1.5"/>
<text x="835.8" y="893.5" font-size="17.4" text-anchor="middle">100</text>
<line x1="597.4" y1="866.6" x2="601.8" y2="866.6" stroke="#231f20" stroke-width="1.5"/>
<text x="597.3" y="870.3" font-size="17.4" text-anchor="end">0</text>
<line x1="597.4" y1="806.7" x2="601.8" y2="806.7" stroke="#231f20" stroke-width="1.5"/>
<text x="597.3" y="810.4" font-size="17.4" text-anchor="end">1000</text>
<line x1="597.4" y1="746.8" x2="601.8" y2="746.8" stroke="#231f20" stroke-width="1.5"/>
<text x="597.3" y="750.5" font-size="17.4" text-anchor="end">2000</text>
<text x="624.86" y="704.4" font-size="24.1" textLength="128.42" lengthAdjust="spacingAndGlyphs">T cell Depot</text>
<text x="558" y="885.38" font-size="17" textLength="174.45" lengthAdjust="spacingAndGlyphs" transform="rotate(-90 558 885.38)">Tumor Volume (mm^3)</text>
<text x="705.36" y="910.5" font-size="17" textLength="31.17" lengthAdjust="spacingAndGlyphs">Day</text>
<text x="978.94" y="465.2" font-size="28" textLength="14.84" lengthAdjust="spacingAndGlyphs">c</text>
<text x="1078.75" y="449.6" font-size="27" textLength="193.25" lengthAdjust="spacingAndGlyphs">Survival Curves</text>
<path d="M1040.5,516 H1232.23 V537.99 H1267.09 V559.97 H1319.38 V603.95 H1365.86 V691.9 H1389.1 V735.88 H1470.44 V779.85 H1592.45" fill="none" stroke="#e71f2a" stroke-width="2"/>
<path d="M1040.5,516 H1232.23 V537.99 H1238.04 V559.97 H1249.66 V625.94 H1267.09 V669.91 H1278.71 V691.9 H1284.52 V757.86 H1307.76 V779.85 H1319.38 V823.82 H1470.44 V845.81 H1592.45" fill="none" stroke="#0c4a5a" stroke-width="2"/>
<path d="M1040.5,516 H1208.99 V537.99 H1238.04 V581.96 H1249.66 V647.92 H1267.09 V713.89 H1278.71 V735.88 H1284.52 V757.86 H1290.33 V801.84 H1301.95 V823.82 H1307.76 V845.81 H1319.38 V867.8" fill="none" stroke="#8d5f28" stroke-width="2"/>
<path d="M1040.5,516 H1168.32 V537.99 H1174.13 V647.92 H1185.75 V713.89 H1197.37 V735.88 H1203.18 V757.86 H1208.99 V845.81 H1238.04 V867.8" fill="none" stroke="#1d1d1d" stroke-width="2"/>
<path d="M1040.5,516 H1156.7 V537.99 H1162.51 V603.95 H1174.13 V625.94 H1185.75 V691.9 H1197.37 V779.85 H1208.99 V801.84 H1220.61 V823.82 H1238.04 V845.81 H1267.09 V867.8" fill="none" stroke="#2c4fa3" stroke-width="2"/>
<polygon points="1232.23,531.39 1238.83,537.99 1232.23,544.59 1225.63,537.99" fill="#e71f2a"/><polygon points="1267.09,553.37 1273.69,559.97 1267.09,566.57 1260.49,559.97" fill="#e71f2a"/><polygon points="1319.38,597.35 1325.98,603.95 1319.38,610.55 1312.78,603.95" fill="#e71f2a"/><polygon points="1365.86,685.3 1372.46,691.9 1365.86,698.5 1359.26,691.9" fill="#e71f2a"/><polygon points="1389.1,729.27 1395.7,735.88 1389.1,742.48 1382.5,735.88" fill="#e71f2a"/><polygon points="1470.44,773.25 1477.04,779.85 1470.44,786.45 1463.84,779.85" fill="#e71f2a"/><polygon points="1331,597.35 1337.6,603.95 1331,610.55 1324.4,603.95" fill="#e71f2a"/><polygon points="1592.45,773.25 1599.05,779.85 1592.45,786.45 1585.85,779.85" fill="#e71f2a"/>
<polygon points="1225.53,531.99 1238.93,531.99 1232.23,543.99" fill="#0c4a5a"/><polygon points="1231.34,553.97 1244.74,553.97 1238.04,565.97" fill="#0c4a5a"/><polygon points="1242.96,619.94 1256.36,619.94 1249.66,631.94" fill="#0c4a5a"/><polygon points="1260.39,663.91 1273.79,663.91 1267.09,675.91" fill="#0c4a5a"/><polygon points="1272.01,685.9 1285.41,685.9 1278.71,697.9" fill="#0c4a5a"/><polygon points="1277.82,751.86 1291.22,751.86 1284.52,763.86" fill="#0c4a5a"/><polygon points="1301.06,773.85 1314.46,773.85 1307.76,785.85" fill="#0c4a5a"/><polygon points="1312.68,817.82 1326.08,817.82 1319.38,829.82" fill="#0c4a5a"/><polygon points="1463.74,839.81 1477.14,839.81 1470.44,851.81" fill="#0c4a5a"/><polygon points="1585.75,839.81 1599.15,839.81 1592.45,851.81" fill="#0c4a5a"/>
<polygon points="1208.99,531.99 1215.69,543.99 1202.29,543.99" fill="#8d5f28"/><polygon points="1238.04,575.96 1244.74,587.96 1231.34,587.96" fill="#8d5f28"/><polygon points="1249.66,641.92 1256.36,653.92 1242.96,653.92" fill="#8d5f28"/><polygon points="1267.09,707.89 1273.79,719.89 1260.39,719.89" fill="#8d5f28"/><polygon points="1278.71,729.88 1285.41,741.88 1272.01,741.88" fill="#8d5f28"/><polygon points="1284.52,751.86 1291.22,763.86 1277.82,763.86" fill="#8d5f28"/><polygon points="1290.33,795.84 1297.03,807.84 1283.63,807.84" fill="#8d5f28"/><polygon points="1301.95,817.82 1308.65,829.82 1295.25,829.82" fill="#8d5f28"/><polygon points="1307.76,839.81 1314.46,851.81 1301.06,851.81" fill="#8d5f28"/><polygon points="1319.38,861.8 1326.08,873.8 1312.68,873.8" fill="#8d5f28"/>
<rect x="1161.82" y="531.49" width="13" height="13" fill="#1d1d1d"/><rect x="1167.63" y="641.42" width="13" height="13" fill="#1d1d1d"/><rect x="1179.25" y="707.39" width="13" height="13" fill="#1d1d1d"/><rect x="1190.87" y="729.38" width="13" height="13" fill="#1d1d1d"/><rect x="1196.68" y="751.36" width="13" height="13" fill="#1d1d1d"/><rect x="1202.49" y="839.31" width="13" height="13" fill="#1d1d1d"/><rect x="1231.54" y="861.3" width="13" height="13" fill="#1d1d1d"/>
<circle cx="1156.7" cy="537.99" r="6.6" fill="#2c4fa3"/><circle cx="1162.51" cy="603.95" r="6.6" fill="#2c4fa3"/><circle cx="1174.13" cy="625.94" r="6.6" fill="#2c4fa3"/><circle cx="1185.75" cy="691.9" r="6.6" fill="#2c4fa3"/><circle cx="1197.37" cy="779.85" r="6.6" fill="#2c4fa3"/><circle cx="1208.99" cy="801.84" r="6.6" fill="#2c4fa3"/><circle cx="1220.61" cy="823.82" r="6.6" fill="#2c4fa3"/><circle cx="1238.04" cy="845.81" r="6.6" fill="#2c4fa3"/><circle cx="1267.09" cy="867.8" r="6.6" fill="#2c4fa3"/>
<line x1="1040.5" y1="480" x2="1040.5" y2="878.4" stroke="#231f20" stroke-width="2.1"/>
<line x1="1029.5" y1="867.8" x2="1621.5" y2="867.8" stroke="#231f20" stroke-width="2.1"/>
<text x="1038.5" y="900.5" font-size="24.5" text-anchor="middle">0</text>
<line x1="1156.7" y1="867.8" x2="1156.7" y2="878.4" stroke="#231f20" stroke-width="2.1"/>
<text x="1154.7" y="900.5" font-size="24.5" text-anchor="middle">20</text>
<line x1="1272.9" y1="867.8" x2="1272.9" y2="878.4" stroke="#231f20" stroke-width="2.1"/>
<text x="1270.9" y="900.5" font-size="24.5" text-anchor="middle">40</text>
<line x1="1389.1" y1="867.8" x2="1389.1" y2="878.4" stroke="#231f20" stroke-width="2.1"/>
<text x="1387.1" y="900.5" font-size="24.5" text-anchor="middle">60</text>
<line x1="1505.3" y1="867.8" x2="1505.3" y2="878.4" stroke="#231f20" stroke-width="2.1"/>
<text x="1503.3" y="900.5" font-size="24.5" text-anchor="middle">80</text>
<line x1="1621.5" y1="867.8" x2="1621.5" y2="878.4" stroke="#231f20" stroke-width="2.1"/>
<text x="1619.5" y="900.5" font-size="24.5" text-anchor="middle">100</text>
<line x1="1029.5" y1="516" x2="1040.5" y2="516" stroke="#231f20" stroke-width="2.1"/>
<line x1="1029.5" y1="691.9" x2="1040.5" y2="691.9" stroke="#231f20" stroke-width="2.1"/>
<text x="1029.4" y="526.2" font-size="24.5" text-anchor="end">100</text>
<text x="1029.4" y="701.9" font-size="24.5" text-anchor="end">50</text>
<text x="1029.4" y="877.6" font-size="24.5" text-anchor="end">0</text>
<text x="993.6" y="777.99" font-size="24.5" textLength="176.92" lengthAdjust="spacingAndGlyphs" transform="rotate(-90 993.6 777.99)">Percent Survival</text>
<text x="1311.12" y="924.8" font-size="24.6" textLength="42.93" lengthAdjust="spacingAndGlyphs">Day</text>
<line x1="1367.2" y1="491.2" x2="1396.9" y2="491.2" stroke="#2c4fa3" stroke-width="1.6"/>
<circle cx="1381.6" cy="491.2" r="4.09" fill="#2c4fa3"/>
<text x="1412.88" y="498.4" font-size="24.4" textLength="150.3" lengthAdjust="spacingAndGlyphs">No Treatment</text>
<line x1="1367.2" y1="523.2" x2="1396.9" y2="523.2" stroke="#1d1d1d" stroke-width="1.6"/>
<rect x="1377.57" y="519.17" width="8.06" height="8.06" fill="#1d1d1d"/>
<text x="1412.88" y="529.9" font-size="24.4" textLength="161.16" lengthAdjust="spacingAndGlyphs">Empty Cryogel</text>
<line x1="1367.2" y1="555.1" x2="1396.9" y2="555.1" stroke="#8d5f28" stroke-width="1.6"/>
<polygon points="1381.6,551.38 1385.75,558.82 1377.45,558.82" fill="#8d5f28"/>
<text x="1412.65" y="561.8" font-size="24.4" textLength="192.13" lengthAdjust="spacingAndGlyphs">IV Injected T cells</text>
<line x1="1367.2" y1="587" x2="1396.9" y2="587" stroke="#0c4a5a" stroke-width="1.6"/>
<polygon points="1377.45,583.28 1385.75,583.28 1381.6,590.72" fill="#0c4a5a"/>
<text x="1412.88" y="593.8" font-size="24.4" textLength="295.21" lengthAdjust="spacingAndGlyphs">Direct Peritumoral Injection</text>
<line x1="1367.2" y1="619" x2="1396.9" y2="619" stroke="#e71f2a" stroke-width="1.6"/>
<polygon points="1381.6,614.91 1385.69,619 1381.6,623.09 1377.51,619" fill="#e71f2a"/>
<text x="1414.35" y="625.3" font-size="24.4" textLength="130.33" lengthAdjust="spacingAndGlyphs">T cell Depot</text>
<path d="M1577.4,485.8 H1600.3 V524 H1577.4" fill="none" stroke="#231f20" stroke-width="1.8"/>
<text x="1604.35" y="511.9" font-size="20.6" textLength="76.06" lengthAdjust="spacingAndGlyphs">p=0.813</text>
<path d="M1708.5,581 H1730.5 V622.8 H1708.5" fill="none" stroke="#231f20" stroke-width="1.8"/>
<text x="1733.66" y="601.5" font-size="20.6" textLength="75.86" lengthAdjust="spacingAndGlyphs">p=0.003</text>
<path d="M1792.8,552 H1815.2 V622.8 H1792.8" fill="none" stroke="#231f20" stroke-width="1.8"/>
<text x="1818.97" y="584.3" font-size="20.6" textLength="86.33" lengthAdjust="spacingAndGlyphs">p=0.0001</text>
<path d="M1887.4,480.2 H1909.8 V622.8 H1887.4" fill="none" stroke="#231f20" stroke-width="1.8"/>
<text x="1911.66" y="551.3" font-size="20.6" textLength="87.15" lengthAdjust="spacingAndGlyphs">p=0.0001</text>
<text x="-0.59" y="1098.7" font-size="33" textLength="21.02" lengthAdjust="spacingAndGlyphs">d</text>
<clipPath id="gc6"><rect x="98.9" y="1125.7" width="233.4" height="156.6"/></clipPath>
<g clip-path="url(#gc6)" fill="none" stroke="#2c4fa3" stroke-width="1.9" stroke-linejoin="round">
<polyline points="98.9,1278.3 107.14,1277.54 111.26,1276.85 115.38,1276.01 119.5,1275.02 123.62,1273.99 127.74,1265.86 131.86,1241.92 136.19,1193.45"/>
<polyline points="98.9,1278.3 107.14,1277.54 111.26,1276.85 115.38,1276.01 119.5,1275.02 123.62,1274.14 127.74,1268.46 131.86,1251.76 135.98,1219.98 140.1,1169.72 143.19,1118.07"/>
<polyline points="98.9,1278.3 107.14,1277.64 111.26,1277.04 115.38,1276.31 119.5,1275.45 123.62,1274.48 127.74,1272.1 131.86,1260.04 135.98,1233.04 140.1,1186.92 144.22,1118.07"/>
<polyline points="98.9,1278.3 107.14,1277.64 111.26,1277.04 115.38,1276.31 119.5,1275.45 123.62,1274.48 127.74,1272.67 131.86,1263.47 135.98,1242.89 140.1,1207.73 144.22,1155.24 146.49,1118.07"/>
<polyline points="98.9,1278.3 107.14,1277.72 111.26,1277.19 115.38,1276.55 119.5,1275.79 123.62,1274.94 127.74,1274.31 131.86,1271.49 135.98,1263.19 140.1,1247.39 144.22,1222.41 148.34,1186.73 149.16,1178.19"/>
<polyline points="98.9,1278.3 107.14,1277.72 111.26,1277.19 115.38,1276.55 119.5,1275.79 123.62,1274.94 127.74,1274.14 131.86,1268.46 135.98,1251.76 140.1,1219.98 144.22,1169.72 147.31,1118.07"/>
<polyline points="98.9,1278.3 107.14,1277.79 111.26,1277.32 115.38,1276.74 119.5,1276.07 123.62,1275.32 127.74,1274.48 131.86,1273.23 135.98,1266.88 140.1,1252.67 144.22,1228.4 148.34,1192.16 152.46,1142.23 154.11,1118.07"/>
<polyline points="98.9,1278.3 107.14,1277.79 111.26,1277.32 115.38,1276.74 119.5,1276.07 123.62,1275.32 127.74,1274.48 131.86,1273.65 135.98,1269.45 140.1,1260.04 144.22,1243.97 148.34,1219.98 152.46,1186.92 156.58,1143.76 158.64,1118.07"/>
<polyline points="98.9,1278.3 107.14,1277.64 111.26,1277.04 115.38,1276.31 119.5,1275.45 123.62,1274.48 127.74,1273.49 131.86,1268.46 135.98,1257.21 140.1,1237.98 144.22,1209.27 148.34,1169.72 152.46,1118.07"/>
</g>
<line x1="98.9" y1="1125.7" x2="98.9" y2="1279.17" stroke="#231f20" stroke-width="1.75"/>
<line x1="98.03" y1="1278.3" x2="274.8" y2="1278.3" stroke="#231f20" stroke-width="1.75"/>
<line x1="286.2" y1="1278.3" x2="330.3" y2="1278.3" stroke="#231f20" stroke-width="1.75"/>
<line x1="98.9" y1="1278.3" x2="98.9" y2="1282.9" stroke="#231f20" stroke-width="1.5"/>
<text x="100.4" y="1299" font-size="17.4" text-anchor="middle">0</text>
<line x1="140.1" y1="1278.3" x2="140.1" y2="1282.9" stroke="#231f20" stroke-width="1.5"/>
<text x="143.1" y="1299" font-size="17.4" text-anchor="middle">20</text>
<line x1="181.3" y1="1278.3" x2="181.3" y2="1282.9" stroke="#231f20" stroke-width="1.5"/>
<text x="184.3" y="1299" font-size="17.4" text-anchor="middle">40</text>
<line x1="222.5" y1="1278.3" x2="222.5" y2="1282.9" stroke="#231f20" stroke-width="1.5"/>
<text x="225.5" y="1299" font-size="17.4" text-anchor="middle">60</text>
<line x1="263.7" y1="1278.3" x2="263.7" y2="1282.9" stroke="#231f20" stroke-width="1.5"/>
<text x="266.7" y="1299" font-size="17.4" text-anchor="middle">80</text>
<line x1="330.3" y1="1278.3" x2="330.3" y2="1282.9" stroke="#231f20" stroke-width="1.5"/>
<text x="333.3" y="1299" font-size="17.4" text-anchor="middle">150</text>
<line x1="274.8" y1="1274" x2="274.8" y2="1282.9" stroke="#231f20" stroke-width="1.5"/>
<line x1="286.2" y1="1274" x2="286.2" y2="1282.9" stroke="#231f20" stroke-width="1.5"/>
<line x1="94.5" y1="1278.3" x2="98.9" y2="1278.3" stroke="#231f20" stroke-width="1.5"/>
<text x="94.4" y="1282" font-size="17.4" text-anchor="end">0</text>
<line x1="94.5" y1="1240.15" x2="98.9" y2="1240.15" stroke="#231f20" stroke-width="1.5"/>
<text x="94.4" y="1243.85" font-size="17.4" text-anchor="end">500</text>
<line x1="94.5" y1="1202" x2="98.9" y2="1202" stroke="#231f20" stroke-width="1.5"/>
<text x="94.4" y="1205.7" font-size="17.4" text-anchor="end">1000</text>
<line x1="94.5" y1="1163.85" x2="98.9" y2="1163.85" stroke="#231f20" stroke-width="1.5"/>
<text x="94.4" y="1167.55" font-size="17.4" text-anchor="end">1500</text>
<line x1="94.5" y1="1125.7" x2="98.9" y2="1125.7" stroke="#231f20" stroke-width="1.5"/>
<text x="94.4" y="1129.4" font-size="17.4" text-anchor="end">2000</text>
<text x="123.03" y="1087.9" font-size="24.1" textLength="147.15" lengthAdjust="spacingAndGlyphs">No Treatment</text>
<text x="54.1" y="1281.38" font-size="17" textLength="172.43" lengthAdjust="spacingAndGlyphs" transform="rotate(-90 54.1 1281.38)">Tumor Volume (mm^3)</text>
<text x="186.56" y="1316.3" font-size="17" textLength="31.28" lengthAdjust="spacingAndGlyphs">Day</text>
<clipPath id="gc7"><rect x="394.7" y="1129.3" width="230.2" height="155.2"/></clipPath>
<g clip-path="url(#gc7)" fill="none" stroke="#5cb947" stroke-width="1.9" stroke-linejoin="round">
<polyline points="394.7,1280.5 404.88,1280.12 417.1,1275.96 424.43,1259.79 432.57,1221.99 437.86,1121.74"/>
<polyline points="394.7,1280.5 402.84,1280.25 406.92,1280.01 410.99,1279.73 415.06,1279.4 419.13,1279.02 423.2,1278.61 427.28,1277.36 431.35,1271.05 435.42,1256.91 439.49,1232.76 443.56,1196.7 448.25,1138.3"/>
<polyline points="394.7,1280.5 402.84,1280.25 406.92,1280.01 410.99,1279.73 415.06,1279.4 419.13,1279.02 423.2,1278.61 427.28,1277.47 431.35,1271.72 435.42,1258.84 439.49,1236.84 443.56,1204 448.04,1153.49"/>
<polyline points="394.7,1280.5 402.84,1280.27 406.92,1280.06 410.99,1279.81 415.06,1279.51 419.13,1279.18 423.2,1278.81 427.28,1278.39 431.35,1274.81 435.42,1264.25 439.49,1244.18 443.56,1212.43 447.64,1167.1"/>
<polyline points="394.7,1280.5 402.84,1280.27 406.92,1280.06 410.99,1279.81 415.06,1279.51 419.13,1279.18 423.2,1278.81 427.28,1278.42 431.35,1275.34 435.42,1266.25 439.49,1248.97 443.56,1221.64 446.62,1193.56"/>
<polyline points="394.7,1280.5 402.84,1280.29 406.92,1280.11 410.99,1279.88 415.06,1279.61 419.13,1279.31 423.2,1278.97 427.28,1278.61 431.35,1277.58 435.42,1272.34 439.49,1260.62 443.56,1240.6 447.64,1210.71 451.71,1169.53 455.37,1121.74"/>
<polyline points="394.7,1280.5 402.84,1280.29 406.92,1280.11 410.99,1279.88 415.06,1279.61 419.13,1279.31 423.2,1278.97 427.28,1278.61 431.35,1277.6 435.42,1272.5 439.49,1261.08 443.56,1241.58 447.64,1212.46"/>
<polyline points="394.7,1280.5 440.51,1280.12 445.6,1274.45 453.95,1258.05 459.44,1227.58 462.91,1174.66 465.35,1121.74"/>
<polyline points="394.7,1280.5 402.84,1280.27 406.92,1280.06 410.99,1279.81 415.06,1279.51 419.13,1279.18 423.2,1278.81 427.28,1278.02 431.35,1274.35 435.42,1267.92 439.49,1259.01 443.56,1247.8 445.19,1242.7"/>
<polyline points="394.7,1280.5 402.84,1280.29 406.92,1280.11 410.99,1279.88 415.06,1279.61 419.13,1279.31 423.2,1278.97 427.28,1278.61 431.35,1277.37 435.42,1271.12 439.49,1257.11 443.56,1233.19 447.64,1197.48 449.67,1174.66"/>
</g>
<line x1="394.7" y1="1129.3" x2="394.7" y2="1281.38" stroke="#231f20" stroke-width="1.75"/>
<line x1="393.82" y1="1280.5" x2="568.9" y2="1280.5" stroke="#231f20" stroke-width="1.75"/>
<line x1="580.1" y1="1280.5" x2="622.9" y2="1280.5" stroke="#231f20" stroke-width="1.75"/>
<line x1="394.7" y1="1280.5" x2="394.7" y2="1285.1" stroke="#231f20" stroke-width="1.5"/>
<text x="396.2" y="1301.2" font-size="17.4" text-anchor="middle">0</text>
<line x1="435.42" y1="1280.5" x2="435.42" y2="1285.1" stroke="#231f20" stroke-width="1.5"/>
<text x="438.42" y="1301.2" font-size="17.4" text-anchor="middle">20</text>
<line x1="476.14" y1="1280.5" x2="476.14" y2="1285.1" stroke="#231f20" stroke-width="1.5"/>
<text x="479.14" y="1301.2" font-size="17.4" text-anchor="middle">40</text>
<line x1="516.86" y1="1280.5" x2="516.86" y2="1285.1" stroke="#231f20" stroke-width="1.5"/>
<text x="519.86" y="1301.2" font-size="17.4" text-anchor="middle">60</text>
<line x1="557.58" y1="1280.5" x2="557.58" y2="1285.1" stroke="#231f20" stroke-width="1.5"/>
<text x="560.58" y="1301.2" font-size="17.4" text-anchor="middle">80</text>
<line x1="622.9" y1="1280.5" x2="622.9" y2="1285.1" stroke="#231f20" stroke-width="1.5"/>
<text x="625.9" y="1301.2" font-size="17.4" text-anchor="middle">150</text>
<line x1="568.9" y1="1276.2" x2="568.9" y2="1285.1" stroke="#231f20" stroke-width="1.5"/>
<line x1="580.1" y1="1276.2" x2="580.1" y2="1285.1" stroke="#231f20" stroke-width="1.5"/>
<line x1="390.3" y1="1280.5" x2="394.7" y2="1280.5" stroke="#231f20" stroke-width="1.5"/>
<text x="390.2" y="1284.2" font-size="17.4" text-anchor="end">0</text>
<line x1="390.3" y1="1242.7" x2="394.7" y2="1242.7" stroke="#231f20" stroke-width="1.5"/>
<text x="390.2" y="1246.4" font-size="17.4" text-anchor="end">500</text>
<line x1="390.3" y1="1204.9" x2="394.7" y2="1204.9" stroke="#231f20" stroke-width="1.5"/>
<text x="390.2" y="1208.6" font-size="17.4" text-anchor="end">1000</text>
<line x1="390.3" y1="1167.1" x2="394.7" y2="1167.1" stroke="#231f20" stroke-width="1.5"/>
<text x="390.2" y="1170.8" font-size="17.4" text-anchor="end">1500</text>
<line x1="390.3" y1="1129.3" x2="394.7" y2="1129.3" stroke="#231f20" stroke-width="1.5"/>
<text x="390.2" y="1133" font-size="17.4" text-anchor="end">2000</text>
<text x="385.37" y="1087.9" font-size="24.1" textLength="248.36" lengthAdjust="spacingAndGlyphs">Contralateral Injection_</text>
<text x="386.96" y="1116.3" font-size="24.1" textLength="127.61" lengthAdjust="spacingAndGlyphs">T cell Depot</text>
<text x="349.8" y="1279.08" font-size="17" textLength="171.52" lengthAdjust="spacingAndGlyphs" transform="rotate(-90 349.8 1279.08)">Tumor Volume (mm^3)</text>
<text x="483.31" y="1316.3" font-size="17" textLength="30.23" lengthAdjust="spacingAndGlyphs">Day</text>
<clipPath id="gc8"><rect x="691.5" y="1128.8" width="231.1" height="155.7"/></clipPath>
<g clip-path="url(#gc8)" fill="none" stroke="#8d5f28" stroke-width="1.9" stroke-linejoin="round">
<polyline points="691.5,1280.5 699.67,1279.62 703.75,1278.83 707.84,1277.85 711.92,1276.71 716.01,1275.15 720.1,1267.25 724.18,1249.58 728.26,1219.39 732.15,1176.96"/>
<polyline points="691.5,1280.5 699.67,1279.75 703.75,1279.06 707.84,1278.22 711.92,1277.24 716.01,1276.5 720.1,1273.04 724.18,1262.88 728.26,1243.55 732.35,1212.97 736.03,1174.31"/>
<polyline points="691.5,1280.5 699.67,1279.85 703.75,1279.25 707.84,1278.52 711.92,1277.67 716.01,1276.71 720.1,1275.67 724.18,1270.43 728.26,1258.69 732.35,1238.65 736.43,1208.72 740.52,1167.48"/>
<polyline points="691.5,1280.5 699.67,1279.92 703.75,1279.4 707.84,1278.76 711.92,1278.01 716.01,1277.16 720.1,1276.57 724.18,1274.33 728.26,1267.74 732.35,1255.2 736.43,1235.38 740.52,1207.06 745.01,1164.83"/>
<polyline points="691.5,1280.5 699.67,1280.13 703.75,1279.8 707.84,1279.39 711.92,1278.91 716.01,1278.38 720.1,1277.78 724.18,1277.35 728.26,1275.39 732.35,1269.62 736.43,1258.65 740.52,1241.3 744.61,1216.53 748.69,1183.39 750.94,1161.26"/>
<polyline points="691.5,1280.5 699.67,1280.17 703.75,1279.87 707.84,1279.5 711.92,1279.07 716.01,1278.59 720.1,1278.05 724.18,1277.47 728.26,1276.82 732.35,1273.55 736.43,1266.23 740.52,1253.72 744.61,1235.04 748.69,1209.31 752.77,1175.72 755.02,1153.6"/>
<polyline points="691.5,1280.5 699.67,1280.17 703.75,1279.87 707.84,1279.5 711.92,1279.07 716.01,1278.59 720.1,1278.05 724.18,1277.47 728.26,1276.91 732.35,1274.12 736.43,1267.87 740.52,1257.19 744.61,1241.25 748.69,1219.29 752.77,1190.61 755.02,1171.73"/>
<polyline points="691.5,1280.5 699.67,1280.2 703.75,1279.93 707.84,1279.59 711.92,1279.2 716.01,1278.76 720.1,1278.28 724.18,1277.75 728.26,1277.35 732.35,1275.39 736.43,1269.62 740.52,1258.66 744.61,1241.32 748.69,1216.56 753.18,1179.62"/>
<polyline points="691.5,1280.5 732.35,1280.12 736.43,1275.95 740.52,1278.22 744.2,1274.43 753.18,1257.97 765.85,1240 773.81,1218.38 781.17,1121.21"/>
<polyline points="691.5,1280.5 699.67,1280.09 703.75,1279.72 707.84,1279.26 711.92,1278.73 716.01,1278.13 720.1,1277.47 724.18,1276.91 728.26,1274.07 732.35,1267.71 736.43,1256.86 740.52,1240.66 744.61,1218.33 746.65,1204.65"/>
</g>
<line x1="691.5" y1="1128.8" x2="691.5" y2="1281.38" stroke="#231f20" stroke-width="1.75"/>
<line x1="690.62" y1="1280.5" x2="865.7" y2="1280.5" stroke="#231f20" stroke-width="1.75"/>
<line x1="877" y1="1280.5" x2="920.6" y2="1280.5" stroke="#231f20" stroke-width="1.75"/>
<line x1="691.5" y1="1280.5" x2="691.5" y2="1285.1" stroke="#231f20" stroke-width="1.5"/>
<text x="693" y="1301.2" font-size="17.4" text-anchor="middle">0</text>
<line x1="732.35" y1="1280.5" x2="732.35" y2="1285.1" stroke="#231f20" stroke-width="1.5"/>
<text x="735.35" y="1301.2" font-size="17.4" text-anchor="middle">20</text>
<line x1="773.2" y1="1280.5" x2="773.2" y2="1285.1" stroke="#231f20" stroke-width="1.5"/>
<text x="776.2" y="1301.2" font-size="17.4" text-anchor="middle">40</text>
<line x1="814.05" y1="1280.5" x2="814.05" y2="1285.1" stroke="#231f20" stroke-width="1.5"/>
<text x="817.05" y="1301.2" font-size="17.4" text-anchor="middle">60</text>
<line x1="854.9" y1="1280.5" x2="854.9" y2="1285.1" stroke="#231f20" stroke-width="1.5"/>
<text x="857.9" y="1301.2" font-size="17.4" text-anchor="middle">80</text>
<line x1="920.6" y1="1280.5" x2="920.6" y2="1285.1" stroke="#231f20" stroke-width="1.5"/>
<text x="923.6" y="1301.2" font-size="17.4" text-anchor="middle">150</text>
<line x1="865.7" y1="1276.2" x2="865.7" y2="1285.1" stroke="#231f20" stroke-width="1.5"/>
<line x1="877" y1="1276.2" x2="877" y2="1285.1" stroke="#231f20" stroke-width="1.5"/>
<line x1="687.1" y1="1280.5" x2="691.5" y2="1280.5" stroke="#231f20" stroke-width="1.5"/>
<text x="687" y="1284.2" font-size="17.4" text-anchor="end">0</text>
<line x1="687.1" y1="1242.58" x2="691.5" y2="1242.58" stroke="#231f20" stroke-width="1.5"/>
<text x="687" y="1246.28" font-size="17.4" text-anchor="end">500</text>
<line x1="687.1" y1="1204.65" x2="691.5" y2="1204.65" stroke="#231f20" stroke-width="1.5"/>
<text x="687" y="1208.35" font-size="17.4" text-anchor="end">1000</text>
<line x1="687.1" y1="1166.72" x2="691.5" y2="1166.72" stroke="#231f20" stroke-width="1.5"/>
<text x="687" y="1170.42" font-size="17.4" text-anchor="end">1500</text>
<line x1="687.1" y1="1128.8" x2="691.5" y2="1128.8" stroke="#231f20" stroke-width="1.5"/>
<text x="687" y="1132.5" font-size="17.4" text-anchor="end">2000</text>
<text x="717.66" y="1087.9" font-size="24.1" textLength="191.21" lengthAdjust="spacingAndGlyphs">IV Injected T cells</text>
<text x="648.9" y="1279.08" font-size="17" textLength="171.52" lengthAdjust="spacingAndGlyphs" transform="rotate(-90 648.9 1279.08)">Tumor Volume (mm^3)</text>
<text x="789.56" y="1316.3" font-size="17" textLength="31.17" lengthAdjust="spacingAndGlyphs">Day</text>
<clipPath id="gc9"><rect x="227.5" y="1375.2" width="235.5" height="158.9"/></clipPath>
<g clip-path="url(#gc9)" fill="none" stroke="#0c4a5a" stroke-width="1.9" stroke-linejoin="round">
<polyline points="227.5,1530.1 248.34,1527 256.68,1524.68 260.84,1520.81 265.01,1484.87"/>
<polyline points="227.5,1530.1 248.34,1527 259.39,1523.83 265.64,1512.44 273.35,1483.63 277.52,1444.9 281.06,1367.45"/>
<polyline points="227.5,1530.1 235.84,1529.73 240,1529.38 244.17,1528.97 248.34,1528.48 252.51,1527.93 256.68,1527.33 260.84,1526.84 265.01,1524.15 269.18,1516.23 273.35,1501.17 277.52,1477.35 282.1,1439.33"/>
<polyline points="227.5,1530.1 265.01,1529.71 273.35,1514.61 279.6,1499.12 283.77,1475.88 288.35,1422.06 292.73,1409.28 295.44,1367.45"/>
<polyline points="227.5,1530.1 273.35,1529.71 282.93,1523.75 290.44,1506.87 296.27,1470.62 302.94,1426.94 305.86,1367.45"/>
<polyline points="227.5,1530.1 281.68,1529.48 286.89,1525.45 296.27,1520.03 302.94,1504.85 311.28,1479.99 314.19,1451.88 317.74,1367.45"/>
<polyline points="227.5,1530.1 235.84,1529.76 240,1529.46 244.17,1529.08 248.34,1528.64 252.51,1528.14 256.68,1527.6 260.84,1527 265.01,1525.98 269.18,1520.79 273.35,1509.19 277.52,1489.37 279.6,1475.88"/>
<polyline points="227.5,1530.1 235.84,1529.82 240,1529.57 244.17,1529.25 248.34,1528.89 252.51,1528.48 256.68,1528.03 260.84,1527.53 265.01,1527 269.18,1526.04 273.35,1521.15 277.52,1510.22 281.68,1491.54 285.85,1463.65 288.77,1437.93"/>
</g>
<line x1="227.5" y1="1375.2" x2="227.5" y2="1530.97" stroke="#231f20" stroke-width="1.75"/>
<line x1="226.62" y1="1530.1" x2="404.6" y2="1530.1" stroke="#231f20" stroke-width="1.75"/>
<line x1="416.6" y1="1530.1" x2="461" y2="1530.1" stroke="#231f20" stroke-width="1.75"/>
<line x1="227.5" y1="1530.1" x2="227.5" y2="1534.7" stroke="#231f20" stroke-width="1.5"/>
<text x="229" y="1550.8" font-size="17.4" text-anchor="middle">0</text>
<line x1="269.18" y1="1530.1" x2="269.18" y2="1534.7" stroke="#231f20" stroke-width="1.5"/>
<text x="272.18" y="1550.8" font-size="17.4" text-anchor="middle">20</text>
<line x1="310.86" y1="1530.1" x2="310.86" y2="1534.7" stroke="#231f20" stroke-width="1.5"/>
<text x="313.86" y="1550.8" font-size="17.4" text-anchor="middle">40</text>
<line x1="352.54" y1="1530.1" x2="352.54" y2="1534.7" stroke="#231f20" stroke-width="1.5"/>
<text x="355.54" y="1550.8" font-size="17.4" text-anchor="middle">60</text>
<line x1="394.22" y1="1530.1" x2="394.22" y2="1534.7" stroke="#231f20" stroke-width="1.5"/>
<text x="397.22" y="1550.8" font-size="17.4" text-anchor="middle">80</text>
<line x1="461" y1="1530.1" x2="461" y2="1534.7" stroke="#231f20" stroke-width="1.5"/>
<text x="464" y="1550.8" font-size="17.4" text-anchor="middle">150</text>
<line x1="404.6" y1="1525.8" x2="404.6" y2="1534.7" stroke="#231f20" stroke-width="1.5"/>
<line x1="416.6" y1="1525.8" x2="416.6" y2="1534.7" stroke="#231f20" stroke-width="1.5"/>
<line x1="223.1" y1="1530.1" x2="227.5" y2="1530.1" stroke="#231f20" stroke-width="1.5"/>
<text x="223" y="1533.8" font-size="17.4" text-anchor="end">0</text>
<line x1="223.1" y1="1491.38" x2="227.5" y2="1491.38" stroke="#231f20" stroke-width="1.5"/>
<text x="223" y="1495.08" font-size="17.4" text-anchor="end">500</text>
<line x1="223.1" y1="1452.65" x2="227.5" y2="1452.65" stroke="#231f20" stroke-width="1.5"/>
<text x="223" y="1456.35" font-size="17.4" text-anchor="end">1000</text>
<line x1="223.1" y1="1413.92" x2="227.5" y2="1413.92" stroke="#231f20" stroke-width="1.5"/>
<text x="223" y="1417.62" font-size="17.4" text-anchor="end">1500</text>
<line x1="223.1" y1="1375.2" x2="227.5" y2="1375.2" stroke="#231f20" stroke-width="1.5"/>
<text x="223" y="1378.9" font-size="17.4" text-anchor="end">2000</text>
<text x="224.02" y="1362.3" font-size="24.1" textLength="290.46" lengthAdjust="spacingAndGlyphs">Direct Peritumoral Injection</text>
<text x="181.5" y="1529.88" font-size="17" textLength="173.34" lengthAdjust="spacingAndGlyphs" transform="rotate(-90 181.5 1529.88)">Tumor Volume (mm^3)</text>
<text x="335.61" y="1566.7" font-size="17" textLength="30.12" lengthAdjust="spacingAndGlyphs">Day</text>
<clipPath id="gc10"><rect x="597" y="1376" width="232.8" height="155.6"/></clipPath>
<g clip-path="url(#gc10)" fill="none" stroke="#e71f2a" stroke-width="1.9" stroke-linejoin="round">
<polyline points="597,1527.6 618.83,1526.84 626.44,1520.02 634.06,1506.68 638.8,1487.73 641.68,1432.62 651.15,1384.19"/>
<polyline points="597,1527.6 617.59,1526.84 627.88,1521.54 634.06,1515.47 637.77,1513.43"/>
<polyline points="597,1527.6 621.71,1527.22 634.06,1523.05 642.3,1516.23 647.45,1504.86 651.15,1495.31"/>
<polyline points="597,1527.6 638.18,1527.22 650.53,1524.57 656.71,1523.05 656.71,1486.82 660.62,1481.06 665.36,1444.98 671.95,1457.33"/>
<polyline points="597,1527.6 638.18,1527.22 650.53,1523.05 656.71,1501.07 661.65,1496.29"/>
<polyline points="597,1527.6 648.48,1527.22 658.77,1523.05 664.33,1517.97 671.95,1516.76 683.48,1487.73 691.92,1460.97 700.57,1368.42"/>
<polyline points="597,1527.6 658.77,1527.22 679.57,1524.19 686.36,1514.26 691.92,1490.99 704.27,1420.8"/>
<polyline points="597,1527.6 689.65,1527.22 737.63,1521.91 756.57,1368.42"/>
<polyline points="597,1527.6 772.01,1527.6"/>
</g>
<line x1="597" y1="1376" x2="597" y2="1528.47" stroke="#231f20" stroke-width="1.75"/>
<line x1="596.12" y1="1527.6" x2="772.7" y2="1527.6" stroke="#231f20" stroke-width="1.75"/>
<line x1="784.1" y1="1527.6" x2="827.8" y2="1527.6" stroke="#231f20" stroke-width="1.75"/>
<line x1="597" y1="1527.6" x2="597" y2="1532.2" stroke="#231f20" stroke-width="1.5"/>
<text x="598.5" y="1548.3" font-size="17.4" text-anchor="middle">0</text>
<line x1="638.18" y1="1527.6" x2="638.18" y2="1532.2" stroke="#231f20" stroke-width="1.5"/>
<text x="641.18" y="1548.3" font-size="17.4" text-anchor="middle">20</text>
<line x1="679.36" y1="1527.6" x2="679.36" y2="1532.2" stroke="#231f20" stroke-width="1.5"/>
<text x="682.36" y="1548.3" font-size="17.4" text-anchor="middle">40</text>
<line x1="720.54" y1="1527.6" x2="720.54" y2="1532.2" stroke="#231f20" stroke-width="1.5"/>
<text x="723.54" y="1548.3" font-size="17.4" text-anchor="middle">60</text>
<line x1="761.72" y1="1527.6" x2="761.72" y2="1532.2" stroke="#231f20" stroke-width="1.5"/>
<text x="764.72" y="1548.3" font-size="17.4" text-anchor="middle">80</text>
<line x1="827.8" y1="1527.6" x2="827.8" y2="1532.2" stroke="#231f20" stroke-width="1.5"/>
<text x="830.8" y="1548.3" font-size="17.4" text-anchor="middle">150</text>
<line x1="772.7" y1="1523.3" x2="772.7" y2="1532.2" stroke="#231f20" stroke-width="1.5"/>
<line x1="784.1" y1="1523.3" x2="784.1" y2="1532.2" stroke="#231f20" stroke-width="1.5"/>
<line x1="592.6" y1="1527.6" x2="597" y2="1527.6" stroke="#231f20" stroke-width="1.5"/>
<text x="592.5" y="1531.3" font-size="17.4" text-anchor="end">0</text>
<line x1="592.6" y1="1489.7" x2="597" y2="1489.7" stroke="#231f20" stroke-width="1.5"/>
<text x="592.5" y="1493.4" font-size="17.4" text-anchor="end">500</text>
<line x1="592.6" y1="1451.8" x2="597" y2="1451.8" stroke="#231f20" stroke-width="1.5"/>
<text x="592.5" y="1455.5" font-size="17.4" text-anchor="end">1000</text>
<line x1="592.6" y1="1413.9" x2="597" y2="1413.9" stroke="#231f20" stroke-width="1.5"/>
<text x="592.5" y="1417.6" font-size="17.4" text-anchor="end">1500</text>
<line x1="592.6" y1="1376" x2="597" y2="1376" stroke="#231f20" stroke-width="1.5"/>
<text x="592.5" y="1379.7" font-size="17.4" text-anchor="end">2000</text>
<text x="606.86" y="1365.7" font-size="24.1" textLength="128.01" lengthAdjust="spacingAndGlyphs">T cell Depot</text>
<text x="551.5" y="1529.88" font-size="17" textLength="173.34" lengthAdjust="spacingAndGlyphs" transform="rotate(-90 551.5 1529.88)">Tumor Volume (mm^3)</text>
<text x="702.87" y="1566.7" font-size="17" textLength="30.96" lengthAdjust="spacingAndGlyphs">Day</text>
<line x1="784.1" y1="1526.8" x2="827.8" y2="1526.8" stroke="#e71f2a" stroke-width="1.9"/>
<text x="969.07" y="1099.8" font-size="28" textLength="18.73" lengthAdjust="spacingAndGlyphs">e</text>
<text x="1078.75" y="1098" font-size="27" textLength="193.05" lengthAdjust="spacingAndGlyphs">Survival Curves</text>
<path d="M1037,1161.7 H1140.95 V1198.96 H1172.13 V1236.21 H1182.53 V1273.47 H1203.32 V1310.72 H1234.51 V1347.98 H1307.27 V1385.23 H1322.86 V1422.49 H1452.8 V1459.74" fill="none" stroke="#e71f2a" stroke-width="2"/>
<line x1="1452.8" y1="1459.74" x2="1480.8" y2="1459.74" stroke="#e71f2a" stroke-width="2"/>
<line x1="1506.7" y1="1459.74" x2="1618.7" y2="1459.74" stroke="#e71f2a" stroke-width="2"/>
<path d="M1037,1161.7 H1135.75 V1236.21 H1161.74 V1273.47 H1172.13 V1310.72 H1182.53 V1347.98 H1187.73 V1385.23 H1208.52 V1422.49 H1244.9 V1459.74 H1276.09 V1497" fill="none" stroke="#0c4a5a" stroke-width="2"/>
<path d="M1037,1161.7 H1140.95 V1198.96 H1156.54 V1236.21 H1166.94 V1273.47 H1172.13 V1310.72 H1187.73 V1385.23 H1198.12 V1422.49 H1203.32 V1459.74 H1276.09 V1497" fill="none" stroke="#8d5f28" stroke-width="2"/>
<path d="M1037,1161.7 H1140.95 V1198.96 H1151.35 V1236.21 H1172.13 V1347.98 H1182.53 V1422.49 H1198.12 V1459.74 H1224.11 V1497" fill="none" stroke="#5cb947" stroke-width="2"/>
<path d="M1037,1161.7 H1114.96 V1198.96 H1130.56 V1236.21 H1140.95 V1273.47 H1151.35 V1310.72 H1161.74 V1385.23 H1166.94 V1422.49 H1187.73 V1497" fill="none" stroke="#2c4fa3" stroke-width="2"/>
<polygon points="1140.95,1192.36 1147.55,1198.96 1140.95,1205.56 1134.35,1198.96" fill="#e71f2a"/><polygon points="1172.13,1229.61 1178.73,1236.21 1172.13,1242.81 1165.54,1236.21" fill="#e71f2a"/><polygon points="1182.53,1266.87 1189.13,1273.47 1182.53,1280.07 1175.93,1273.47" fill="#e71f2a"/><polygon points="1203.32,1304.12 1209.92,1310.72 1203.32,1317.32 1196.72,1310.72" fill="#e71f2a"/><polygon points="1234.51,1341.38 1241.11,1347.98 1234.51,1354.58 1227.91,1347.98" fill="#e71f2a"/><polygon points="1307.27,1378.63 1313.87,1385.23 1307.27,1391.83 1300.67,1385.23" fill="#e71f2a"/><polygon points="1322.86,1415.89 1329.46,1422.49 1322.86,1429.09 1316.26,1422.49" fill="#e71f2a"/><polygon points="1452.8,1453.14 1459.4,1459.74 1452.8,1466.34 1446.2,1459.74" fill="#e71f2a"/>
<polygon points="1618.7,1453.14 1625.3,1459.74 1618.7,1466.34 1612.1,1459.74" fill="#e71f2a"/>
<polygon points="1129.05,1230.21 1142.45,1230.21 1135.75,1242.21" fill="#0c4a5a"/><polygon points="1155.04,1267.47 1168.44,1267.47 1161.74,1279.47" fill="#0c4a5a"/><polygon points="1165.43,1304.72 1178.84,1304.72 1172.13,1316.72" fill="#0c4a5a"/><polygon points="1175.83,1341.98 1189.23,1341.98 1182.53,1353.98" fill="#0c4a5a"/><polygon points="1181.03,1379.23 1194.43,1379.23 1187.73,1391.23" fill="#0c4a5a"/><polygon points="1201.82,1416.49 1215.22,1416.49 1208.52,1428.49" fill="#0c4a5a"/><polygon points="1238.2,1453.74 1251.6,1453.74 1244.9,1465.74" fill="#0c4a5a"/><polygon points="1269.38,1491 1282.79,1491 1276.09,1503" fill="#0c4a5a"/>
<polygon points="1140.95,1192.96 1147.65,1204.96 1134.25,1204.96" fill="#8d5f28"/><polygon points="1156.54,1230.21 1163.24,1242.21 1149.84,1242.21" fill="#8d5f28"/><polygon points="1166.94,1267.47 1173.64,1279.47 1160.24,1279.47" fill="#8d5f28"/><polygon points="1172.13,1304.72 1178.84,1316.72 1165.43,1316.72" fill="#8d5f28"/><polygon points="1187.73,1379.23 1194.43,1391.23 1181.03,1391.23" fill="#8d5f28"/><polygon points="1198.12,1416.49 1204.82,1428.49 1191.42,1428.49" fill="#8d5f28"/><polygon points="1203.32,1453.74 1210.02,1465.74 1196.62,1465.74" fill="#8d5f28"/><polygon points="1276.09,1491 1282.79,1503 1269.38,1503" fill="#8d5f28"/>
<polygon points="1140.95,1193.16 1146.75,1198.96 1140.95,1204.76 1135.15,1198.96" fill="#fff" stroke="#5cb947" stroke-width="1.6"/><polygon points="1151.35,1230.41 1157.14,1236.21 1151.35,1242.01 1145.55,1236.21" fill="#fff" stroke="#5cb947" stroke-width="1.6"/><polygon points="1172.13,1342.18 1177.93,1347.98 1172.13,1353.78 1166.34,1347.98" fill="#fff" stroke="#5cb947" stroke-width="1.6"/><polygon points="1182.53,1416.69 1188.33,1422.49 1182.53,1428.29 1176.73,1422.49" fill="#fff" stroke="#5cb947" stroke-width="1.6"/><polygon points="1198.12,1453.94 1203.92,1459.74 1198.12,1465.54 1192.32,1459.74" fill="#fff" stroke="#5cb947" stroke-width="1.6"/><polygon points="1224.11,1491.2 1229.91,1497 1224.11,1502.8 1218.31,1497" fill="#fff" stroke="#5cb947" stroke-width="1.6"/>
<circle cx="1114.96" cy="1198.96" r="6.6" fill="#2c4fa3"/><circle cx="1130.56" cy="1236.21" r="6.6" fill="#2c4fa3"/><circle cx="1140.95" cy="1273.47" r="6.6" fill="#2c4fa3"/><circle cx="1151.35" cy="1310.72" r="6.6" fill="#2c4fa3"/><circle cx="1161.74" cy="1385.23" r="6.6" fill="#2c4fa3"/><circle cx="1166.94" cy="1422.49" r="6.6" fill="#2c4fa3"/><circle cx="1187.73" cy="1497" r="6.6" fill="#2c4fa3"/>
<line x1="1037" y1="1127.8" x2="1037" y2="1507.6" stroke="#231f20" stroke-width="2.1"/>
<line x1="1026" y1="1497" x2="1479.8" y2="1497" stroke="#231f20" stroke-width="2.1"/>
<line x1="1507.8" y1="1497" x2="1618.7" y2="1497" stroke="#231f20" stroke-width="2.1"/>
<line x1="1479.8" y1="1488.3" x2="1479.8" y2="1506" stroke="#231f20" stroke-width="2.1"/>
<line x1="1507.8" y1="1488.3" x2="1507.8" y2="1506" stroke="#231f20" stroke-width="2.1"/>
<text x="1035" y="1530.5" font-size="24.5" text-anchor="middle">0</text>
<line x1="1140.95" y1="1497" x2="1140.95" y2="1507.6" stroke="#231f20" stroke-width="2.1"/>
<text x="1138.95" y="1530.5" font-size="24.5" text-anchor="middle">20</text>
<line x1="1244.9" y1="1497" x2="1244.9" y2="1507.6" stroke="#231f20" stroke-width="2.1"/>
<text x="1242.9" y="1530.5" font-size="24.5" text-anchor="middle">40</text>
<line x1="1348.85" y1="1497" x2="1348.85" y2="1507.6" stroke="#231f20" stroke-width="2.1"/>
<text x="1346.85" y="1530.5" font-size="24.5" text-anchor="middle">60</text>
<line x1="1452.8" y1="1497" x2="1452.8" y2="1507.6" stroke="#231f20" stroke-width="2.1"/>
<text x="1450.8" y="1530.5" font-size="24.5" text-anchor="middle">80</text>
<line x1="1618.7" y1="1497" x2="1618.7" y2="1507.6" stroke="#231f20" stroke-width="2.1"/>
<text x="1616.2" y="1530.5" font-size="24.5" text-anchor="middle">150</text>
<line x1="1026" y1="1161.7" x2="1037" y2="1161.7" stroke="#231f20" stroke-width="2.1"/>
<line x1="1026" y1="1329.35" x2="1037" y2="1329.35" stroke="#231f20" stroke-width="2.1"/>
<text x="1026.8" y="1171.5" font-size="24.5" text-anchor="end">100</text>
<text x="1026.8" y="1339.5" font-size="24.5" text-anchor="end">50</text>
<text x="1026.8" y="1506.8" font-size="24.5" text-anchor="end">0</text>
<text x="993.6" y="1416.79" font-size="24.5" textLength="176.92" lengthAdjust="spacingAndGlyphs" transform="rotate(-90 993.6 1416.79)">Percent Survival</text>
<text x="1309.77" y="1558" font-size="24.6" textLength="44.08" lengthAdjust="spacingAndGlyphs">Day</text>
<line x1="1214.1" y1="1136.6" x2="1244.7" y2="1136.6" stroke="#2c4fa3" stroke-width="1.6"/>
<circle cx="1229.4" cy="1136.6" r="4.09" fill="#2c4fa3"/>
<text x="1261" y="1143.7" font-size="24.4" textLength="155.88" lengthAdjust="spacingAndGlyphs">No  Treatment</text>
<line x1="1214.1" y1="1170.2" x2="1244.7" y2="1170.2" stroke="#5cb947" stroke-width="1.6"/>
<polygon points="1229.4,1166.6 1233,1170.2 1229.4,1173.8 1225.8,1170.2" fill="#fff" stroke="#5cb947" stroke-width="0.99"/>
<text x="1261.73" y="1177.3" font-size="24.4" textLength="391.56" lengthAdjust="spacingAndGlyphs">Contralateral Injection_T cell Depot</text>
<line x1="1214.1" y1="1203.8" x2="1244.7" y2="1203.8" stroke="#8d5f28" stroke-width="1.6"/>
<polygon points="1229.4,1200.08 1233.55,1207.52 1225.25,1207.52" fill="#8d5f28"/>
<text x="1260.77" y="1210.2" font-size="24.4" textLength="191.11" lengthAdjust="spacingAndGlyphs">IV Injected T cells</text>
<line x1="1214.1" y1="1236.7" x2="1244.7" y2="1236.7" stroke="#0c4a5a" stroke-width="1.6"/>
<polygon points="1225.25,1232.98 1233.55,1232.98 1229.4,1240.42" fill="#0c4a5a"/>
<text x="1261" y="1243.8" font-size="24.4" textLength="292.58" lengthAdjust="spacingAndGlyphs">Direct Peritumoral Injection</text>
<line x1="1214.1" y1="1270.1" x2="1244.7" y2="1270.1" stroke="#e71f2a" stroke-width="1.6"/>
<polygon points="1229.4,1266.01 1233.49,1270.1 1229.4,1274.19 1225.31,1270.1" fill="#e71f2a"/>
<text x="1262.44" y="1277.2" font-size="24.4" textLength="132.34" lengthAdjust="spacingAndGlyphs">T cell Depot</text>
<path d="M1556.1,1234.9 H1578.4 V1277.9 H1556.1" fill="none" stroke="#231f20" stroke-width="1.8"/>
<text x="1582.85" y="1258.3" font-size="20.6" textLength="88.06" lengthAdjust="spacingAndGlyphs">p=0.0498</text>
<path d="M1663.7,1202 H1686 V1277.9 H1663.7" fill="none" stroke="#231f20" stroke-width="1.8"/>
<text x="1688.66" y="1239.5" font-size="20.6" textLength="87.39" lengthAdjust="spacingAndGlyphs">p=0.0337</text>
<path d="M1762,1169.1 H1783.8 V1277.9 H1762" fill="none" stroke="#231f20" stroke-width="1.8"/>
<text x="1787.68" y="1223.2" font-size="20.6" textLength="86.3" lengthAdjust="spacingAndGlyphs">p=0.0119</text>
<path d="M1856.2,1128.4 H1878.5 V1280.7 H1856.2" fill="none" stroke="#231f20" stroke-width="1.8"/>
<text x="1882.45" y="1204.3" font-size="20.6" textLength="88.03" lengthAdjust="spacingAndGlyphs">p=0.0025</text>
</svg>
</body></html>
